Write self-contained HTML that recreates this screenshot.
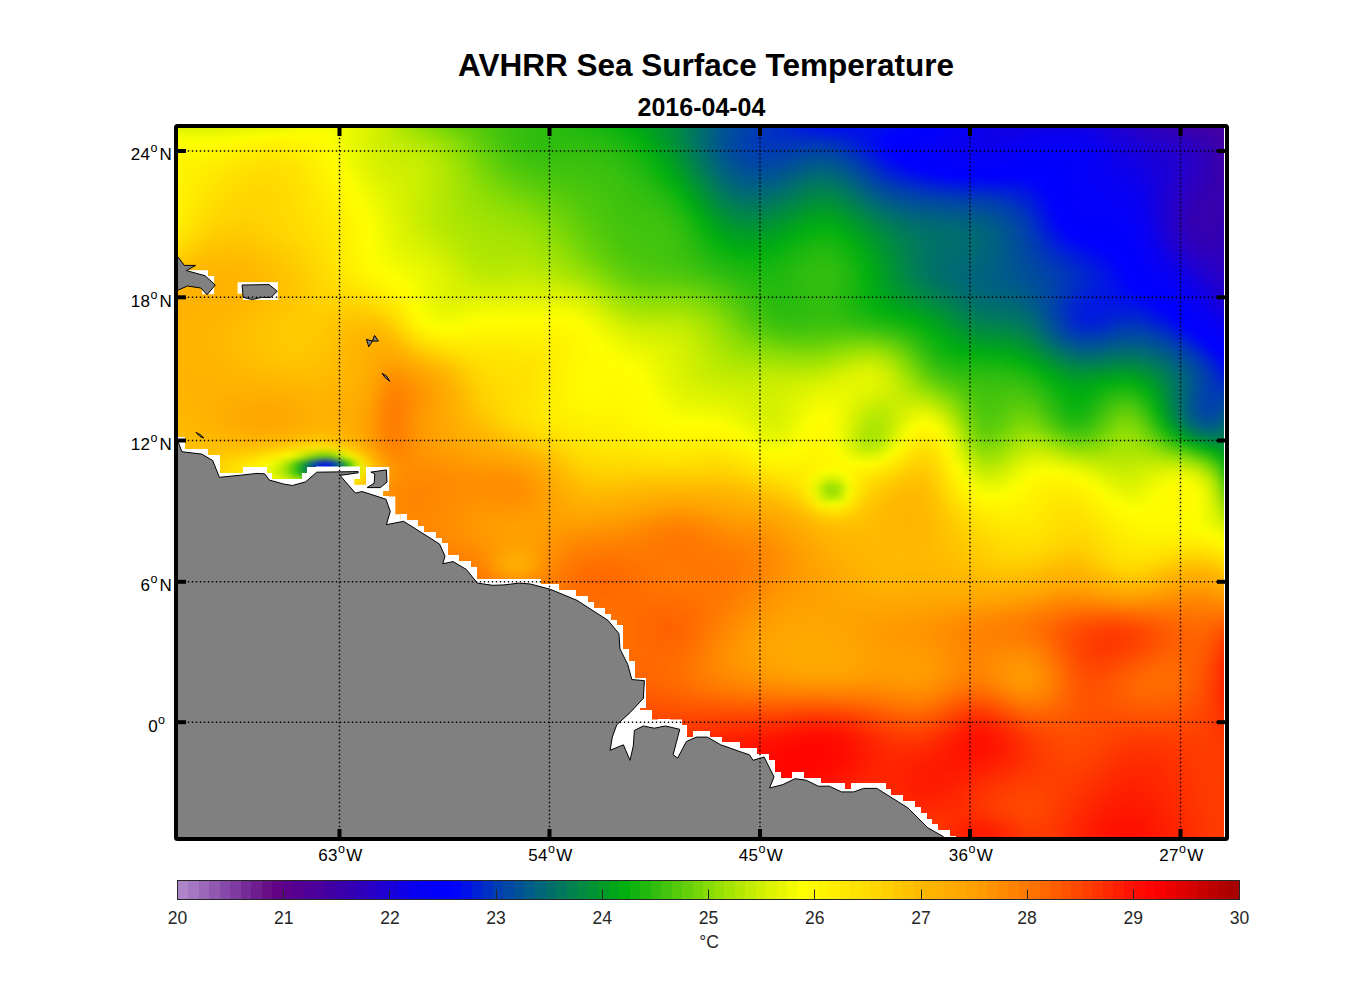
<!DOCTYPE html>
<html><head><meta charset="utf-8"><style>
html,body{margin:0;padding:0;background:#fff;}
body{width:1356px;height:1000px;position:relative;overflow:hidden;font-family:"Liberation Sans",sans-serif;}
#clip{position:absolute;left:178px;top:128px;width:1046px;height:709px;overflow:hidden;}
#field{position:absolute;left:-20px;top:-20px;width:1090px;filter:blur(3px);}
#field i{display:block;height:8px;}
svg{position:absolute;left:0;top:0;}
</style></head><body>
<div id="clip"><div id="field"><i style="background:linear-gradient(90deg,#ddf400,#ddf400,#ddf400,#dcf300,#dcf300,#dcf300,#dcf300,#ddf400,#dff400,#e0f500,#e3f600,#e5f600,#e9f800,#ecf900,#f0fa00,#f3fb00,#f4fb00,#f4fb00,#f1fa00,#ecf900,#e5f600,#dcf300,#d2f000,#c3ec01,#b3e802,#a4e403,#95e004,#87dc05,#7ad707,#6fd308,#65d009,#5ccd0a,#54ca0b,#4cc70c,#44c50d,#3dc20e,#37c00e,#32be0f,#2ebd0f,#2bbc0f,#28bb0f,#25ba0f,#21b90f,#1db80f,#17b60f,#10b40f,#09b20f,#00af0f,#00a916,#00a21f,#009b29,#009235,#008944,#007e55,#007366,#006778,#005b89,#005098,#0048a4,#0041ad,#003bb5,#0034be,#002dc7,#0026d0,#001ed9,#0018e1,#0012e8,#000fec,#000eee,#000eed,#000fec,#0010eb,#000fec,#000cf0,#0008f5,#0001fd,#0000ff,#0000ff,#0200fc,#0400f9,#0600f5,#0800f3,#0a00f0,#0d00eb,#0f00e8,#1000e5,#1100e4,#1200e3,#1100e4,#1100e4,#1100e5,#1100e5,#1100e4,#1300e1,#1600dd,#1900d7,#1e00d2,#2300cd,#2700c7,#2b00c1,#2f00bb,#3300b5,#3700af,#3b00ab,#3e00a8,#4100a5,#4300a3,#4400a2,#4400a2,#4400a2)"></i><i style="background:linear-gradient(90deg,#ddf400,#ddf400,#ddf400,#dcf300,#dcf300,#dcf300,#dcf300,#ddf400,#dff400,#e0f500,#e3f600,#e5f600,#e9f800,#ecf900,#f0fa00,#f3fb00,#f4fb00,#f4fb00,#f1fa00,#ecf900,#e5f600,#dcf300,#d2f000,#c3ec01,#b3e802,#a4e403,#95e004,#87dc05,#7ad707,#6fd308,#65d009,#5ccd0a,#54ca0b,#4cc70c,#44c50d,#3dc20e,#37c00e,#32be0f,#2ebd0f,#2bbc0f,#28bb0f,#25ba0f,#21b90f,#1db80f,#17b60f,#10b40f,#09b20f,#00af0f,#00a916,#00a21f,#009b29,#009235,#008944,#007e55,#007366,#006778,#005b89,#005098,#0048a4,#0041ad,#003bb5,#0034be,#002dc7,#0026d0,#001ed9,#0018e1,#0012e8,#000fec,#000eee,#000eed,#000fec,#0010eb,#000fec,#000cf0,#0008f5,#0001fd,#0000ff,#0000ff,#0200fc,#0400f9,#0600f5,#0800f3,#0a00f0,#0d00eb,#0f00e8,#1000e5,#1100e4,#1200e3,#1100e4,#1100e4,#1100e5,#1100e5,#1100e4,#1300e1,#1600dd,#1900d7,#1e00d2,#2300cd,#2700c7,#2b00c1,#2f00bb,#3300b5,#3700af,#3b00ab,#3e00a8,#4100a5,#4300a3,#4400a2,#4400a2,#4400a2)"></i><i style="background:linear-gradient(90deg,#ddf400,#ddf400,#ddf400,#dcf300,#dcf300,#dcf300,#dcf300,#ddf400,#dff400,#e0f500,#e3f600,#e5f600,#e9f800,#ecf900,#f0fa00,#f3fb00,#f4fb00,#f4fb00,#f1fa00,#ecf900,#e5f600,#dcf300,#d2f000,#c3ec01,#b3e802,#a4e403,#95e004,#87dc05,#7ad707,#6fd308,#65d009,#5ccd0a,#54ca0b,#4cc70c,#44c50d,#3dc20e,#37c00e,#32be0f,#2ebd0f,#2bbc0f,#28bb0f,#25ba0f,#21b90f,#1db80f,#17b60f,#10b40f,#09b20f,#00af0f,#00a916,#00a21f,#009b29,#009235,#008944,#007e55,#007366,#006778,#005b89,#005098,#0048a4,#0041ad,#003bb5,#0034be,#002dc7,#0026d0,#001ed9,#0018e1,#0012e8,#000fec,#000eee,#000eed,#000fec,#0010eb,#000fec,#000cf0,#0008f5,#0001fd,#0000ff,#0000ff,#0200fc,#0400f9,#0600f5,#0800f3,#0a00f0,#0d00eb,#0f00e8,#1000e5,#1100e4,#1200e3,#1100e4,#1100e4,#1100e5,#1100e5,#1100e4,#1300e1,#1600dd,#1900d7,#1e00d2,#2300cd,#2700c7,#2b00c1,#2f00bb,#3300b5,#3700af,#3b00ab,#3e00a8,#4100a5,#4300a3,#4400a2,#4400a2,#4400a2)"></i><i style="background:linear-gradient(90deg,#f2fb00,#f2fb00,#f2fb00,#f0fa00,#effa00,#f0fa00,#f2fb00,#f4fb00,#f7fc00,#fbfe00,#feff00,#fffe00,#fffd00,#fffd00,#fffd00,#fffd00,#ffff00,#fafd00,#f4fb00,#ecf900,#e3f600,#daf300,#d0f000,#c5ed01,#bbea02,#b1e702,#a6e403,#9ce204,#90df04,#84db05,#77d607,#6ad208,#5dcd0a,#51c90b,#47c50d,#3ec20e,#37c00e,#31be0f,#2ebd0f,#2cbc0f,#2abc0f,#29bb0f,#27bb0f,#25ba0f,#21b90f,#1bb70f,#14b50f,#0bb20f,#01af0f,#00a818,#009e24,#009532,#008a42,#007e55,#007268,#00657b,#00598c,#004e9b,#0045a7,#003fb0,#0039b8,#0033bf,#002fc4,#002cc8,#0029cb,#0027ce,#0024d2,#0021d6,#001eda,#0019df,#0014e5,#000fec,#0009f4,#0002fc,#0000ff,#0000ff,#0100fd,#0300fa,#0500f7,#0700f4,#0900f2,#0b00ef,#0d00eb,#0e00e9,#0f00e8,#0e00e9,#0d00eb,#0c00ed,#0a00f0,#0a00f1,#0900f1,#0900f1,#0a00f0,#0c00ed,#0f00e7,#1400e0,#1800d9,#1d00d3,#2200ce,#2500c9,#2800c5,#2b00c1,#2e00bc,#3200b7,#3500b1,#3a00ac,#3f00a7,#4500a1,#4500a1,#4500a1)"></i><i style="background:linear-gradient(90deg,#fffe00,#fffe00,#fffe00,#ffff00,#feff00,#fffe00,#fffd00,#fffb00,#fff800,#fff600,#fff400,#fff300,#fff200,#fff300,#fff400,#fff700,#fffa00,#fffe00,#f7fc00,#edf900,#e3f600,#d9f200,#d1f000,#c8ed01,#c1ec01,#bbea02,#b4e802,#abe603,#a0e303,#93df04,#85db05,#75d607,#66d009,#58cb0b,#4cc70c,#41c30d,#39c10e,#34bf0f,#30bd0f,#2ebd0f,#2ebd0f,#2dbd0f,#2dbc0f,#2bbc0f,#29bb0f,#24ba0f,#1eb80f,#15b50f,#0ab20f,#00ad12,#00a31e,#00982d,#008d3e,#008052,#007366,#006679,#00598b,#004e9b,#0045a7,#003fb0,#003ab6,#0037bb,#0035bd,#0035bc,#0036bb,#0037ba,#0037bb,#0034be,#002fc5,#0027cf,#001dda,#0013e7,#0009f4,#0000ff,#0000ff,#0100fe,#0300fb,#0400f8,#0600f6,#0800f3,#0900f1,#0b00ee,#0c00ec,#0d00ec,#0c00ed,#0a00f0,#0900f1,#0800f3,#0700f4,#0700f5,#0600f5,#0700f5,#0700f4,#0900f2,#0b00ef,#0f00e7,#1400e0,#1800d9,#1c00d4,#2000d0,#2300cd,#2600c9,#2800c5,#2c00c0,#3000ba,#3500b2,#3c00aa,#4500a1,#4500a1,#4500a1)"></i><i style="background:linear-gradient(90deg,#fff800,#fff800,#fff800,#fff900,#fff900,#fff800,#fff500,#fff300,#fff000,#ffed00,#ffeb00,#ffea00,#ffea00,#ffeb00,#ffee00,#fff200,#fff600,#fffb00,#fbfe00,#effa00,#e4f600,#daf300,#d3f000,#ccee00,#c7ed01,#c3ec01,#beeb01,#b6e902,#ace603,#9ee203,#8fde04,#7fd906,#6ed308,#5fce0a,#52c90b,#47c50d,#3ec20e,#38c00e,#35bf0f,#33be0f,#32be0f,#32be0f,#32be0f,#32be0f,#30bd0f,#2cbc0f,#26ba0f,#1eb80f,#13b50f,#05b10f,#00a818,#009d26,#009138,#00844c,#007761,#006975,#005c88,#005098,#0048a4,#0042ac,#003eb1,#003db3,#003db2,#003fb0,#0042ac,#0044a9,#0045a7,#0044a9,#003fb0,#0036bb,#0029cb,#001cdc,#000fed,#0003fb,#0000ff,#0000ff,#0200fc,#0400f9,#0500f7,#0700f5,#0800f3,#0900f2,#0900f1,#0900f1,#0800f2,#0700f4,#0600f5,#0500f7,#0500f8,#0400f9,#0400f9,#0500f8,#0500f7,#0700f5,#0900f2,#0c00ed,#1000e6,#1400df,#1700da,#1a00d6,#1e00d2,#2100cf,#2400cb,#2800c6,#2c00bf,#3200b6,#3a00ac,#4400a2,#4400a2,#4400a2)"></i><i style="background:linear-gradient(90deg,#fff500,#fff500,#fff500,#fff500,#fff400,#fff200,#ffef00,#ffec00,#ffe900,#ffe600,#ffe400,#ffe300,#ffe400,#ffe600,#ffe900,#ffed00,#fff300,#fff900,#ffff00,#f2fb00,#e7f700,#ddf400,#d5f100,#cfef00,#cbee00,#c8ed01,#c4ec01,#bdeb01,#b3e802,#a6e403,#97e004,#87dc05,#76d607,#67d109,#5acc0a,#4ec80c,#45c50d,#3fc30d,#3bc10e,#39c00e,#38c00e,#38c00e,#38c00e,#37c00e,#35bf0f,#32be0f,#2dbc0f,#25ba0f,#1bb70f,#0eb30f,#00ae11,#00a21f,#009630,#008944,#007b59,#006e6e,#006081,#005592,#004c9d,#0046a5,#0043aa,#0043aa,#0045a8,#0048a3,#004c9d,#005098,#005295,#005197,#004c9e,#0043aa,#0038b9,#0028cd,#0019e0,#000cf0,#0001fe,#0000ff,#0000ff,#0200fc,#0300fa,#0400f8,#0500f7,#0600f6,#0600f5,#0600f6,#0500f7,#0400f8,#0300fa,#0300fb,#0200fc,#0200fc,#0300fb,#0300fa,#0400f9,#0600f6,#0800f4,#0900f1,#0d00eb,#1100e5,#1400df,#1700db,#1a00d6,#1e00d2,#2200ce,#2600c8,#2b00c1,#3100b8,#3900ad,#4200a4,#4200a4,#4200a4)"></i><i style="background:linear-gradient(90deg,#fff400,#fff400,#fff400,#fff200,#fff000,#ffed00,#ffea00,#ffe700,#ffe400,#ffe100,#ffdf00,#ffdf00,#ffdf00,#ffe200,#ffe500,#ffea00,#fff000,#fff600,#fffd00,#f6fc00,#ebf800,#e0f500,#d8f200,#d3f000,#cfef00,#ccee00,#c8ed01,#c1ec01,#b8e902,#abe603,#9de204,#8ede05,#7ed906,#6fd408,#62cf09,#57cb0b,#4ec80c,#48c60c,#43c40d,#40c30d,#3ec20e,#3dc20e,#3dc20e,#3cc10e,#3ac10e,#37c00e,#32be0f,#2cbc0f,#22b90f,#16b60f,#07b10f,#00a917,#009c27,#008f3b,#008150,#007366,#006679,#005b89,#005295,#004d9c,#004ba0,#004b9f,#004d9c,#005295,#00578e,#005c87,#005f83,#005e85,#00588c,#004f99,#0044a8,#0037ba,#0027cf,#0019e0,#000eee,#0005f9,#0000ff,#0000ff,#0000ff,#0100fe,#0200fc,#0200fc,#0200fb,#0200fc,#0200fd,#0100fe,#0000ff,#0000ff,#0000ff,#0000fe,#0100fd,#0200fb,#0400fa,#0500f7,#0700f5,#0800f2,#0a00f0,#0e00ea,#1100e4,#1400df,#1800d9,#1c00d4,#2200ce,#2600c8,#2b00c1,#3100b8,#3800ae,#4000a6,#4000a6,#4000a6)"></i><i style="background:linear-gradient(90deg,#fff300,#fff300,#fff300,#fff100,#ffed00,#ffea00,#ffe600,#ffe300,#ffe000,#ffdd00,#ffdc00,#ffdb00,#ffdd00,#ffdf00,#ffe300,#ffe800,#ffee00,#fff400,#fffb00,#fbfe00,#effa00,#e5f600,#dcf300,#d6f100,#d2f000,#ceef00,#caee01,#c3ec01,#b9e902,#aee602,#a0e303,#93df04,#85db05,#78d707,#6cd208,#61cf09,#58cc0a,#51c90b,#4cc70c,#48c60c,#45c50d,#43c40d,#42c40d,#40c30d,#3ec20e,#3bc10e,#37c00e,#31be0f,#29bb0f,#1eb80f,#11b40f,#00af0f,#00a31e,#009630,#008846,#007a5b,#006e6f,#00627f,#005a8a,#005591,#005394,#005492,#00578e,#005d86,#00637d,#006876,#006b72,#006b73,#00657a,#005c87,#005097,#0044a8,#0037ba,#002acb,#001fd9,#0016e3,#0010ec,#000af3,#0005f9,#0001fe,#0000ff,#0000ff,#0000ff,#0000ff,#0000ff,#0000ff,#0000ff,#0000ff,#0000ff,#0000ff,#0000fe,#0200fc,#0300fa,#0500f8,#0600f6,#0700f4,#0900f2,#0b00ef,#0e00e9,#1200e2,#1700db,#1c00d4,#2300cd,#2700c6,#2d00bf,#3200b6,#3800ae,#3e00a8,#3e00a8,#3e00a8)"></i><i style="background:linear-gradient(90deg,#fff400,#fff400,#fff400,#ffef00,#ffeb00,#ffe700,#ffe300,#ffdf00,#ffdd00,#ffda00,#ffd900,#ffd900,#ffdb00,#ffdd00,#ffe100,#ffe600,#ffec00,#fff200,#fff800,#ffff00,#f4fb00,#e9f800,#e0f500,#daf300,#d5f100,#d0ef00,#caee01,#c3ec01,#bae902,#afe702,#a3e303,#97e004,#8bdd05,#80da06,#75d607,#6cd208,#63cf09,#5ccd0a,#56cb0b,#51c90b,#4dc80c,#4ac60c,#47c50d,#44c40d,#41c30d,#3ec20e,#3ac10e,#35bf0f,#2fbd0f,#26ba0f,#1ab70f,#0cb20f,#00ab14,#009d25,#008f3a,#00824f,#007563,#006a73,#00627e,#005e84,#005d86,#005e84,#00627f,#006876,#006f6d,#007465,#007760,#007761,#007268,#006975,#005d86,#005197,#0046a7,#003cb3,#0032c0,#002aca,#0024d2,#001fd8,#001bde,#0017e2,#0014e6,#0012e8,#0011ea,#0010eb,#0010eb,#000fed,#000def,#0009f4,#0002fc,#0000ff,#0000ff,#0200fd,#0300fa,#0500f8,#0600f7,#0700f5,#0800f3,#0900f1,#0c00ed,#1100e5,#1600dc,#1d00d3,#2400cb,#2900c3,#2f00bb,#3400b4,#3800ae,#3c00aa,#3c00aa,#3c00aa)"></i><i style="background:linear-gradient(90deg,#fff400,#fff400,#fff400,#ffee00,#ffe900,#ffe400,#ffe000,#ffdd00,#ffda00,#ffd800,#ffd700,#ffd700,#ffd900,#ffdc00,#ffe000,#ffe500,#ffea00,#fff000,#fff600,#fffc00,#f9fd00,#eef900,#e5f600,#ddf400,#d7f200,#d1f000,#c9ee01,#c2ec01,#b9e902,#afe702,#a5e403,#9be104,#91df04,#88dc05,#7fd906,#77d607,#6fd308,#68d109,#61cf09,#5bcc0a,#55ca0b,#50c90b,#4cc70c,#48c60c,#44c50d,#41c30d,#3dc20e,#39c00e,#34bf0f,#2dbc0f,#23ba0f,#17b60f,#06b10f,#00a51b,#00972e,#008a43,#007d56,#007366,#006c71,#006876,#006778,#006975,#006e6f,#007366,#00795c,#007f54,#00824f,#00824f,#007d57,#007563,#006a73,#005e84,#005394,#004aa0,#0043aa,#003eb1,#003ab7,#0035bc,#0032c1,#002fc5,#002cc8,#002acb,#0028cd,#0026d0,#0023d3,#0020d7,#001bdd,#0014e6,#000af2,#0000ff,#0000ff,#0100fd,#0300fa,#0400f8,#0500f7,#0600f6,#0700f5,#0800f3,#0a00f0,#0f00e7,#1600dc,#1e00d2,#2600c9,#2c00c0,#3100b8,#3500b1,#3800ae,#3900ad,#3900ad,#3900ad)"></i><i style="background:linear-gradient(90deg,#fff500,#fff500,#fff500,#ffed00,#ffe700,#ffe100,#ffdd00,#ffda00,#ffd700,#ffd600,#ffd600,#ffd700,#ffd900,#ffdc00,#ffdf00,#ffe400,#ffe800,#ffee00,#fff300,#fff900,#feff00,#f3fb00,#e9f800,#e0f500,#d8f200,#d1f000,#c9ed01,#c0eb01,#b8e902,#afe702,#a6e403,#9ee203,#96e004,#8fde04,#88dc05,#81da06,#7ad806,#73d507,#6cd208,#65d009,#5ecd0a,#57cb0b,#51c90b,#4cc70c,#47c60c,#43c40d,#3fc30d,#3cc10e,#38c00e,#33be0f,#2cbc0f,#21b90f,#12b40f,#00ad11,#009f22,#009236,#008649,#007c58,#007562,#007268,#007268,#007465,#00785e,#007e55,#00844c,#008943,#008d3e,#008d3e,#008845,#008052,#007661,#006c71,#006180,#00588c,#005296,#004d9d,#0049a2,#0046a5,#0044a8,#0043ab,#0041ad,#003faf,#003eb2,#003bb5,#0036bb,#0030c3,#0028cd,#001ed9,#0012e9,#0004f9,#0000ff,#0100fd,#0300fa,#0400f9,#0500f8,#0500f7,#0600f6,#0700f5,#0900f1,#0e00e9,#1600dc,#2000d0,#2800c6,#2e00bc,#3400b4,#3700af,#3900ad,#3700af,#3700af,#3700af)"></i><i style="background:linear-gradient(90deg,#fff400,#fff400,#fff400,#ffeb00,#ffe400,#ffdf00,#ffda00,#ffd700,#ffd500,#ffd400,#ffd400,#ffd600,#ffd800,#ffdb00,#ffdf00,#ffe300,#ffe700,#ffec00,#fff100,#fff700,#fffd00,#f8fd00,#edf900,#e3f600,#daf300,#d2f000,#c8ed01,#bfeb01,#b7e902,#afe702,#a8e503,#a1e303,#9be104,#96e004,#90df04,#8bdd05,#86db05,#7fd906,#77d607,#6fd308,#66d009,#5ece0a,#56cb0b,#50c90b,#4ac70c,#45c50d,#41c30d,#3ec20e,#3cc10e,#38c00e,#33be0f,#2abc0f,#1db80f,#0ab20f,#00a818,#009a29,#008e3c,#00854a,#007f54,#007c58,#007c58,#007e55,#00834e,#008845,#008e3c,#009433,#00972e,#00972f,#009335,#008b41,#00824f,#00785f,#006f6d,#006679,#006082,#005b89,#00578e,#005492,#005295,#005197,#005099,#004e9b,#004b9e,#0048a3,#0044a9,#003eb1,#0035bd,#0028cd,#0019e0,#0009f3,#0000ff,#0100fe,#0300fb,#0400f9,#0400f9,#0400f9,#0500f8,#0600f6,#0800f3,#0d00eb,#1600dc,#2100cf,#2900c3,#3000b9,#3600b1,#3900ad,#3900ad,#3500b2,#3500b2,#3500b2)"></i><i style="background:linear-gradient(90deg,#fff300,#fff300,#fff300,#ffe900,#ffe100,#ffdc00,#ffd700,#ffd400,#ffd200,#ffd200,#ffd300,#ffd500,#ffd700,#ffdb00,#ffde00,#ffe100,#ffe500,#ffea00,#ffef00,#fff500,#fffb00,#fbfe00,#f0fa00,#e6f700,#dcf300,#d3f000,#c9ee01,#bfeb01,#b7e902,#b0e702,#a9e503,#a4e403,#9fe303,#9be104,#98e004,#94df04,#8fde04,#89dd05,#82da06,#78d707,#6fd308,#65d009,#5ccd0a,#54ca0b,#4dc80c,#48c60c,#43c40d,#40c30d,#3fc20e,#3dc20e,#39c10e,#32be0f,#27bb0f,#16b60f,#01af0f,#00a31e,#00972e,#008e3c,#008845,#008649,#008649,#008845,#008d3e,#009236,#00982c,#009d25,#00a121,#00a121,#009d26,#009531,#008d3e,#00834d,#007a5b,#007367,#006c70,#006777,#00637d,#006181,#005f83,#005d85,#005c87,#005a8a,#00578e,#005393,#004e9b,#0047a5,#003eb1,#0031c2,#0020d7,#000fec,#0000ff,#0000ff,#0200fc,#0300fa,#0300fa,#0300fa,#0400fa,#0500f8,#0700f4,#0c00ed,#1500dd,#2100cf,#2a00c2,#3200b7,#3700af,#3900ad,#3800ae,#3300b5,#3300b5,#3300b5)"></i><i style="background:linear-gradient(90deg,#fff000,#fff000,#fff000,#ffe600,#ffde00,#ffd700,#ffd300,#ffd000,#ffcf00,#ffcf00,#ffd100,#ffd300,#ffd600,#ffd900,#ffdd00,#ffe000,#ffe400,#ffe800,#ffee00,#fff300,#fff900,#feff00,#f3fb00,#e8f700,#def400,#d5f100,#cbee00,#c1eb01,#b9e902,#b2e702,#ace603,#a7e503,#a3e403,#a0e303,#9ee203,#9be104,#97e004,#92df04,#8bdd05,#82da06,#77d607,#6cd308,#62cf09,#59cc0a,#51c90b,#4ac60c,#45c50d,#42c40d,#41c30d,#40c30d,#3ec20e,#39c00e,#2fbd0f,#20b90f,#0db30f,#00ab14,#009f22,#00972f,#009237,#008f3a,#009039,#009236,#00962f,#009c27,#00a21f,#00a719,#00ab15,#00ab15,#00a61a,#009f23,#00962f,#008d3d,#00844b,#007d57,#007661,#007169,#006d6f,#006a73,#006876,#006778,#00667a,#00647c,#006181,#005c87,#005690,#004e9b,#0044a8,#0039b8,#0027ce,#0015e5,#0004f9,#0000ff,#0100fe,#0200fc,#0200fc,#0200fc,#0200fb,#0400f9,#0700f5,#0b00ef,#1400df,#2100cf,#2a00c2,#3200b7,#3700af,#3900ad,#3700af,#3100b8,#3100b8,#3100b8)"></i><i style="background:linear-gradient(90deg,#ffeb00,#ffeb00,#ffeb00,#ffe100,#ffd900,#ffd200,#ffce00,#ffcc00,#ffcb00,#ffcc00,#ffce00,#ffd100,#ffd400,#ffd700,#ffdb00,#ffde00,#ffe200,#ffe700,#ffec00,#fff200,#fff800,#ffff00,#f4fb00,#eaf800,#e0f500,#d8f200,#cfef00,#c6ed01,#bdea01,#b6e802,#afe702,#aae503,#a7e403,#a4e403,#a3e303,#a1e303,#9ee203,#9ae104,#93df04,#8add05,#7fd906,#74d507,#68d109,#5ecd0a,#54ca0b,#4dc80c,#47c60c,#44c40d,#43c40d,#42c40d,#41c30d,#3dc20e,#35bf0f,#27bb0f,#17b60f,#05b00f,#00a818,#009f22,#009b29,#00992c,#00992b,#009b27,#00a022,#00a51b,#00ab14,#02b00f,#07b10f,#07b10f,#01af0f,#00a817,#009f22,#009630,#008d3e,#00854a,#007e55,#00785e,#007465,#00706a,#006e6d,#006d70,#006c71,#006a74,#006679,#006180,#005b89,#005295,#0049a2,#003eb1,#002ec6,#001cdb,#000cef,#0000ff,#0000ff,#0000ff,#0000fe,#0100fe,#0100fd,#0300fb,#0600f7,#0900f1,#1300e1,#1e00d2,#2900c4,#3000b9,#3500b1,#3800ae,#3600b0,#3000ba,#3000ba,#3000ba)"></i><i style="background:linear-gradient(90deg,#ffe400,#ffe400,#ffe400,#ffda00,#ffd200,#ffcc00,#ffc800,#ffc700,#ffc600,#ffc800,#ffca00,#ffcd00,#ffd000,#ffd400,#ffd800,#ffdc00,#ffe000,#ffe500,#ffeb00,#fff100,#fff800,#fffe00,#f5fc00,#ecf900,#e3f600,#dbf300,#d4f100,#ccef00,#c4ec01,#bbea02,#b4e802,#aee602,#aae503,#a7e503,#a6e403,#a6e403,#a4e403,#a0e303,#9ae104,#91df04,#87dc05,#7bd806,#6fd408,#64d009,#59cc0a,#51c90b,#4ac60c,#46c50d,#44c40d,#43c40d,#42c40d,#3fc30d,#38c00e,#2dbc0f,#1eb80f,#0fb30f,#00af0f,#00a818,#00a41d,#00a21f,#00a21f,#00a51c,#00a917,#00ae10,#07b10f,#0fb40f,#14b50f,#14b50f,#0db30f,#02b00f,#00a718,#009d25,#009433,#008b40,#00834d,#007d57,#007760,#007366,#00716a,#006f6c,#006e6e,#006c71,#006975,#00647c,#005d85,#005591,#004c9e,#0042ac,#0035bd,#0025d1,#0016e3,#000af3,#0001fe,#0000ff,#0000ff,#0000ff,#0000ff,#0200fc,#0500f8,#0800f2,#1000e6,#1b00d5,#2600c9,#2d00be,#3200b6,#3500b2,#3400b4,#2f00bb,#2f00bb,#2f00bb)"></i><i style="background:linear-gradient(90deg,#ffdc00,#ffdc00,#ffdc00,#ffd200,#ffca00,#ffc500,#ffc200,#ffc100,#ffc100,#ffc300,#ffc500,#ffc900,#ffcc00,#ffd000,#ffd400,#ffd900,#ffde00,#ffe400,#ffea00,#fff100,#fff700,#fffe00,#f7fc00,#eef900,#e6f700,#e0f500,#daf300,#d4f100,#ccee00,#c2ec01,#bae902,#b2e702,#ade602,#aae503,#aae503,#aae503,#a9e503,#a6e403,#a1e303,#99e104,#8fde04,#84db05,#77d607,#6bd208,#60ce0a,#56cb0b,#4ec80c,#49c60c,#46c50d,#45c50d,#43c40d,#41c30d,#3bc10e,#31be0f,#25ba0f,#18b60f,#0cb30f,#02b00f,#00ac12,#00ab14,#00ab14,#00ad11,#03b00f,#0bb20f,#13b50f,#1ab70f,#1eb80f,#1eb80f,#18b60f,#0db30f,#00ae10,#00a41d,#00992b,#009039,#008747,#007f53,#00795d,#007465,#00716a,#006f6d,#006e6f,#006c71,#006975,#00647c,#005e84,#00568f,#004e9b,#0045a7,#003bb5,#002ec6,#0021d6,#0016e4,#000def,#0007f7,#0002fd,#0000ff,#0000ff,#0100fe,#0400fa,#0700f4,#0d00eb,#1600dc,#2100cf,#2900c5,#2e00bd,#3100b8,#3100b8,#2e00bc,#2e00bc,#2e00bc)"></i><i style="background:linear-gradient(90deg,#ffd100,#ffd100,#ffd100,#ffc900,#ffc300,#ffbf00,#ffbd00,#ffbc00,#ffbd00,#ffbe00,#ffc100,#ffc400,#ffc800,#ffcc00,#ffd100,#ffd600,#ffdc00,#ffe200,#ffe800,#ffef00,#fff600,#fffd00,#f9fd00,#f1fa00,#ebf800,#e5f600,#e0f500,#dbf300,#d4f100,#caee01,#c0eb01,#b7e902,#b1e702,#aee602,#aee602,#aee602,#aee602,#ade602,#a8e503,#a1e303,#98e004,#8dde05,#81da06,#74d507,#68d109,#5dcd0a,#53ca0b,#4dc70c,#49c60c,#47c50d,#45c50d,#43c40d,#3ec20e,#36c00e,#2dbc0f,#22b90f,#17b60f,#0fb30f,#09b20f,#06b10f,#06b10f,#09b20f,#0eb30f,#15b50f,#1db80f,#23ba0f,#27bb0f,#27bb0f,#20b90f,#15b50f,#07b10f,#00a917,#009e25,#009334,#008a43,#008151,#00795c,#007465,#00706b,#006e6e,#006c71,#006a73,#006777,#00637d,#005e85,#00578e,#005099,#0048a3,#0040ae,#0036bb,#002bc9,#0022d5,#0019e0,#0012e9,#000bf1,#0005f9,#0000ff,#0000ff,#0300fb,#0600f6,#0a00f1,#1200e3,#1a00d6,#2300cc,#2900c4,#2d00bf,#2e00bc,#2e00bd,#2e00bd,#2e00bd)"></i><i style="background:linear-gradient(90deg,#ffc700,#ffc700,#ffc700,#ffc100,#ffbc00,#ffb900,#ffb800,#ffb800,#ffb800,#ffba00,#ffbd00,#ffc000,#ffc400,#ffc900,#ffce00,#ffd300,#ffda00,#ffe000,#ffe700,#ffee00,#fff500,#fffb00,#fdfe00,#f5fc00,#f0fa00,#ebf800,#e6f700,#e1f500,#daf300,#d1f000,#c6ed01,#bdea01,#b6e902,#b3e802,#b3e802,#b4e802,#b4e802,#b4e802,#b0e702,#aae503,#a1e303,#97e004,#8cdd05,#80d906,#72d507,#66d009,#5bcd0a,#53ca0b,#4ec80c,#4bc70c,#49c60c,#47c50d,#43c40d,#3dc20e,#35bf0f,#2cbc0f,#23ba0f,#1cb70f,#16b60f,#13b50f,#12b40f,#13b50f,#17b60f,#1db80f,#24ba0f,#2abc0f,#2ebd0f,#2dbc0f,#27bb0f,#1cb70f,#0db30f,#00ac12,#00a121,#009630,#008c40,#00824e,#007a5b,#007465,#006f6c,#006c70,#006a73,#006876,#00667a,#00627f,#005d86,#00578e,#005196,#004b9f,#0044a9,#003eb2,#0035bd,#002cc8,#0023d3,#001bdd,#0013e7,#000bf1,#0002fc,#0000ff,#0100fd,#0400f8,#0800f3,#0d00ec,#1400df,#1b00d5,#2300cc,#2800c6,#2b00c1,#2d00bf,#2d00bf,#2d00bf)"></i><i style="background:linear-gradient(90deg,#ffbe00,#ffbe00,#ffbe00,#ffba00,#ffb700,#ffb600,#ffb500,#ffb500,#ffb600,#ffb800,#ffba00,#ffbd00,#ffc100,#ffc600,#ffcb00,#ffd100,#ffd700,#ffde00,#ffe400,#ffeb00,#fff200,#fff800,#fffd00,#fcfe00,#f6fc00,#f1fa00,#ecf900,#e6f700,#def400,#d6f100,#cdef00,#c3ec01,#bdea01,#baea02,#b9e902,#bbea02,#bcea01,#bcea01,#b9e902,#b4e802,#ade602,#a4e403,#99e104,#8dde05,#80d906,#72d507,#66d009,#5ccd0a,#56cb0b,#53ca0b,#50c90b,#4ec80c,#4bc70c,#46c50d,#3fc30d,#37c00e,#2fbd0f,#28bb0f,#22b90f,#1eb80f,#1bb70f,#1bb70f,#1eb80f,#23b90f,#29bb0f,#2ebd0f,#32be0f,#31be0f,#2bbc0f,#20b80f,#11b40f,#00af0f,#00a31d,#00982c,#008e3c,#00844b,#007c59,#007563,#00706b,#006c71,#006975,#006778,#00647c,#006180,#005d86,#00588d,#005394,#004e9b,#0048a3,#0042ac,#003cb4,#0033bf,#002aca,#0022d5,#0019df,#0010ea,#0007f6,#0000ff,#0000ff,#0300fb,#0600f6,#0900f2,#0e00e9,#1500de,#1c00d4,#2300cd,#2800c6,#2b00c1,#2b00c1,#2b00c1)"></i><i style="background:linear-gradient(90deg,#ffb800,#ffb800,#ffb800,#ffb600,#ffb400,#ffb300,#ffb300,#ffb400,#ffb500,#ffb600,#ffb800,#ffbc00,#ffc000,#ffc400,#ffc900,#ffcf00,#ffd500,#ffdb00,#ffe100,#ffe700,#ffed00,#fff300,#fff700,#fffc00,#feff00,#f7fc00,#f0fa00,#e9f800,#e2f500,#daf300,#d3f000,#cbee00,#c5ed01,#c3ec01,#c3ec01,#c4ec01,#c5ed01,#c6ed01,#c4ec01,#c1eb01,#bbea02,#b3e802,#a9e503,#9de204,#8fde04,#81da06,#73d507,#68d109,#62cf09,#5ecd0a,#5ccd0a,#5acc0a,#58cb0b,#53ca0b,#4dc70c,#45c50d,#3dc20e,#35bf0f,#2ebd0f,#28bb0f,#24ba0f,#22b90f,#22b90f,#26ba0f,#2bbc0f,#30bd0f,#33be0f,#32be0f,#2cbc0f,#21b90f,#13b50f,#02b00f,#00a51b,#009a29,#009138,#008746,#007f53,#00785e,#007267,#006e6e,#006a73,#006778,#00647c,#006180,#005e85,#005a8a,#005690,#005197,#004b9f,#0045a7,#003fb0,#0037bb,#002dc7,#0024d1,#001cdc,#0014e7,#000bf2,#0001fd,#0000ff,#0100fd,#0400f9,#0700f5,#0900f1,#0f00e8,#1500dd,#1d00d3,#2400cb,#2900c4,#2900c4,#2900c4)"></i><i style="background:linear-gradient(90deg,#ffb500,#ffb500,#ffb500,#ffb300,#ffb300,#ffb200,#ffb300,#ffb300,#ffb500,#ffb600,#ffb800,#ffbc00,#ffbf00,#ffc400,#ffc800,#ffcd00,#ffd300,#ffd800,#ffdd00,#ffe200,#ffe700,#ffeb00,#fff000,#fff500,#fffb00,#fdfe00,#f3fb00,#eaf800,#e3f600,#dcf300,#d7f200,#d3f000,#d0f000,#cfef00,#cfef00,#d0ef00,#d1f000,#d2f000,#d1f000,#d0ef00,#ccee00,#c5ed01,#bcea01,#afe702,#a1e303,#92df04,#84db05,#78d707,#71d408,#6dd308,#6cd208,#6ad208,#68d109,#64d009,#5ecd0a,#56cb0b,#4dc70c,#43c40d,#3ac10e,#31be0f,#2abc0f,#26ba0f,#25ba0f,#27bb0f,#2bbc0f,#30bd0f,#32be0f,#31be0f,#2bbc0f,#21b90f,#13b50f,#04b00f,#00a719,#009e25,#009532,#008d3f,#00854a,#007e55,#00785e,#007367,#006e6e,#006a74,#006679,#00637d,#006181,#005d85,#005a8b,#005591,#004e9a,#0047a5,#003faf,#0036bc,#002bc9,#0023d4,#001bdd,#0015e5,#000eee,#0006f7,#0000ff,#0000ff,#0200fc,#0400f8,#0700f4,#0a00f0,#1100e5,#1700da,#1f00d1,#2600c8,#2600c8,#2600c8)"></i><i style="background:linear-gradient(90deg,#ffb300,#ffb300,#ffb300,#ffb200,#ffb200,#ffb200,#ffb300,#ffb400,#ffb500,#ffb700,#ffb900,#ffbd00,#ffc000,#ffc400,#ffc800,#ffcd00,#ffd100,#ffd400,#ffd800,#ffdb00,#ffdf00,#ffe300,#ffe700,#ffee00,#fff500,#fffc00,#f6fc00,#ebf800,#e4f600,#dff400,#dcf300,#dbf300,#dbf300,#dbf300,#dbf300,#dbf300,#dcf300,#dcf300,#dcf300,#dcf300,#dbf300,#d7f200,#d0f000,#c4ec01,#b4e802,#a4e403,#96e004,#8add05,#83db05,#80d906,#7fd906,#7ed906,#7cd806,#78d707,#71d408,#67d109,#5dcd0a,#51c90b,#45c50d,#3ac10e,#31be0f,#2abc0f,#27bb0f,#28bb0f,#2bbc0f,#2fbd0f,#31be0f,#30bd0f,#2bbc0f,#21b90f,#14b50f,#06b10f,#00aa15,#00a220,#009a2a,#009334,#008d3e,#008648,#008053,#00795c,#007465,#006f6d,#006b73,#006777,#00657b,#00627e,#005f83,#00598b,#005296,#0048a3,#003fb0,#0032c0,#0027cf,#001fd9,#0019df,#0015e5,#0011e9,#000cef,#0006f8,#0000ff,#0000ff,#0200fc,#0500f7,#0800f3,#0c00ec,#1300e1,#1a00d6,#2200ce,#2200ce,#2200ce)"></i><i style="background:linear-gradient(90deg,#ffb300,#ffb300,#ffb300,#ffb200,#ffb200,#ffb300,#ffb400,#ffb500,#ffb700,#ffb900,#ffbb00,#ffbf00,#ffc200,#ffc500,#ffc900,#ffcc00,#ffcf00,#ffd100,#ffd200,#ffd300,#ffd500,#ffd900,#ffde00,#ffe500,#ffee00,#fff800,#fbfe00,#eef900,#e6f700,#e2f500,#e2f500,#e4f600,#e6f700,#e7f700,#e7f700,#e7f700,#e7f700,#e7f700,#e8f700,#e9f800,#e8f700,#e6f700,#e0f500,#d7f200,#c8ed01,#b7e902,#a8e503,#9ce204,#95e004,#93df04,#92df04,#92df04,#91df04,#8cdd05,#84db05,#7ad707,#6dd308,#5fce0a,#51c90b,#43c40d,#37c00e,#2ebd0f,#29bb0f,#29bb0f,#2bbc0f,#2ebd0f,#30be0f,#30bd0f,#2bbc0f,#22b90f,#17b60f,#0bb20f,#00ae10,#00a818,#00a120,#009b28,#009630,#00903a,#008944,#00824f,#007b5a,#007563,#00706a,#006d6f,#006b72,#006975,#00657a,#005f83,#005690,#004aa0,#003eb1,#002fc4,#0022d4,#001bdd,#0018e1,#0017e3,#0016e3,#0014e6,#000fec,#0008f5,#0000ff,#0000ff,#0300fb,#0600f6,#0900f2,#0f00e8,#1500dd,#1c00d4,#1c00d4,#1c00d4)"></i><i style="background:linear-gradient(90deg,#ffb300,#ffb300,#ffb300,#ffb300,#ffb300,#ffb400,#ffb500,#ffb600,#ffb800,#ffbb00,#ffbe00,#ffc100,#ffc400,#ffc700,#ffc900,#ffcc00,#ffcd00,#ffcd00,#ffcc00,#ffcc00,#ffcc00,#ffce00,#ffd300,#ffdc00,#ffe600,#fff200,#fffd00,#f2fb00,#eaf800,#e8f700,#eaf800,#eef900,#f1fa00,#f3fb00,#f4fb00,#f3fb00,#f3fb00,#f3fb00,#f4fb00,#f5fc00,#f6fc00,#f4fb00,#eef900,#e5f600,#d9f200,#caee01,#baea02,#aee602,#a8e503,#a5e403,#a5e403,#a5e403,#a3e403,#9ee203,#96e004,#8bdd05,#7dd806,#6dd308,#5dcd0a,#4dc80c,#3fc30d,#35bf0f,#2ebd0f,#2cbc0f,#2dbd0f,#30bd0f,#32be0f,#32be0f,#2ebd0f,#27bb0f,#1eb80f,#14b50f,#0ab20f,#01af0f,#00ab14,#00a61b,#00a022,#009a2a,#009235,#008b41,#00834d,#007c58,#007760,#007464,#007267,#00706a,#006d70,#006679,#005b89,#004d9c,#003faf,#002ec6,#0020d7,#001adf,#0019e0,#001bde,#001dda,#001ed9,#001bdd,#0014e6,#000af2,#0000ff,#0000ff,#0300fa,#0700f5,#0a00f0,#1000e6,#1600dc,#1600dc,#1600dc)"></i><i style="background:linear-gradient(90deg,#ffb300,#ffb300,#ffb300,#ffb300,#ffb400,#ffb500,#ffb600,#ffb800,#ffba00,#ffbd00,#ffc000,#ffc300,#ffc600,#ffc800,#ffca00,#ffcb00,#ffcb00,#ffca00,#ffc700,#ffc400,#ffc300,#ffc300,#ffc700,#ffd000,#ffde00,#ffeb00,#fff800,#fcfe00,#f3fb00,#f1fa00,#f4fb00,#f9fd00,#feff00,#ffff00,#fffe00,#ffff00,#ffff00,#ffff00,#ffff00,#fffe00,#fffe00,#ffff00,#fbfe00,#f2fb00,#e6f700,#daf300,#cdef00,#c1eb01,#baea02,#b8e902,#b8e902,#b7e902,#b5e802,#afe702,#a5e403,#99e104,#8bdd05,#7ad806,#69d109,#58cc0a,#4ac60c,#3ec20e,#36bf0f,#33be0f,#33be0f,#35bf0f,#37c00e,#38c00e,#35bf0f,#30bd0f,#2abb0f,#22b90f,#1ab70f,#13b50f,#0cb30f,#04b00f,#00ac13,#00a51c,#009c26,#009433,#008c40,#00854b,#007f53,#007d57,#007b5a,#00795d,#007563,#006e6e,#00627f,#005394,#0043aa,#0031c1,#0023d3,#001ddb,#001ed9,#0023d4,#0028cd,#002bc9,#002acb,#0023d3,#0019df,#000def,#0000ff,#0100fe,#0400f9,#0700f4,#0b00ef,#1000e6,#1000e6,#1000e6)"></i><i style="background:linear-gradient(90deg,#ffb400,#ffb400,#ffb400,#ffb400,#ffb500,#ffb600,#ffb700,#ffb900,#ffbc00,#ffbf00,#ffc200,#ffc500,#ffc700,#ffc900,#ffca00,#ffcb00,#ffca00,#ffc700,#ffc300,#ffbf00,#ffbb00,#ffba00,#ffbd00,#ffc500,#ffd300,#ffe200,#fff000,#fff900,#fffe00,#ffff00,#fffe00,#fffb00,#fff900,#fff800,#fff800,#fff800,#fff900,#fff900,#fff900,#fff800,#fff900,#fffa00,#fffc00,#fcfe00,#f1fa00,#e5f600,#daf300,#d2f000,#ccee00,#c9ee01,#c8ed01,#c6ed01,#c3ec01,#bcea01,#b2e702,#a5e403,#96e004,#87dc05,#76d607,#65d009,#57cb0b,#4bc70c,#43c40d,#3fc30d,#3ec20e,#40c30d,#42c40d,#43c40d,#43c40d,#41c30d,#3dc20e,#38c00e,#32be0f,#2bbc0f,#22b90f,#19b60f,#0db30f,#00af0f,#00a61a,#009d26,#009532,#008e3c,#008944,#008648,#00854b,#00834e,#007e54,#007760,#006b72,#005b89,#004aa0,#003cb4,#002dc7,#0028cd,#002aca,#0031c2,#0038ba,#003cb4,#003bb5,#0035bc,#002bc9,#001ed9,#000fec,#0000ff,#0100fe,#0400f9,#0700f4,#0a00f0,#0a00f0,#0a00f0)"></i><i style="background:linear-gradient(90deg,#ffb400,#ffb400,#ffb400,#ffb400,#ffb500,#ffb600,#ffb800,#ffba00,#ffbd00,#ffc000,#ffc300,#ffc500,#ffc800,#ffc900,#ffca00,#ffca00,#ffc800,#ffc500,#ffc000,#ffbb00,#ffb700,#ffb500,#ffb500,#ffba00,#ffc600,#ffd600,#ffe400,#ffee00,#fff300,#fff500,#fff500,#fff400,#fff300,#fff200,#fff200,#fff200,#fff300,#fff300,#fff400,#fff400,#fff500,#fff600,#fff900,#fffd00,#f9fd00,#effa00,#e5f600,#def400,#d9f200,#d6f100,#d4f100,#d2f000,#cdef00,#c5ed01,#baea02,#aee602,#a0e303,#91df04,#83db05,#75d607,#68d109,#5dcd0a,#56cb0b,#51c90b,#50c90b,#50c90b,#52c90b,#55ca0b,#57cb0b,#59cc0a,#59cc0a,#57cb0b,#52c90b,#49c60c,#3dc20e,#2ebd0f,#1fb80f,#0fb30f,#00af10,#00a61b,#009e25,#00982d,#009434,#009137,#00903a,#008d3d,#008944,#008150,#007662,#006679,#00568f,#0048a3,#003fb0,#003bb5,#003db2,#0042ac,#0047a5,#004aa0,#004aa1,#0046a7,#003fb0,#0033bf,#0023d3,#0012e9,#0000ff,#0100fe,#0400f9,#0700f4,#0700f4,#0700f4)"></i><i style="background:linear-gradient(90deg,#ffb400,#ffb400,#ffb400,#ffb400,#ffb500,#ffb600,#ffb800,#ffba00,#ffbd00,#ffc000,#ffc300,#ffc500,#ffc700,#ffc800,#ffc900,#ffc800,#ffc600,#ffc300,#ffbe00,#ffb800,#ffb500,#ffb200,#ffb000,#ffb200,#ffb900,#ffc700,#ffd600,#ffe000,#ffe600,#ffe900,#ffeb00,#ffec00,#ffec00,#ffed00,#ffed00,#ffed00,#ffee00,#ffee00,#ffef00,#fff000,#fff200,#fff400,#fff700,#fffb00,#feff00,#f6fc00,#effa00,#e8f700,#e3f600,#e0f500,#dcf300,#d9f200,#d4f100,#cbee00,#c0eb01,#b4e802,#a8e503,#9be104,#90de04,#85db05,#7bd806,#73d507,#6cd308,#68d109,#66d009,#66d009,#68d109,#6cd208,#71d408,#77d607,#7bd806,#7bd806,#76d607,#6ad208,#59cc0a,#45c50d,#30bd0f,#1cb80f,#0cb30f,#00ae11,#00a719,#00a21f,#009f23,#009d25,#009b27,#00992b,#009532,#008d3e,#00824f,#007464,#00667a,#00598c,#005098,#004d9c,#004f9a,#005394,#00588d,#005a8a,#00598b,#005591,#004e9a,#0045a7,#0039b7,#0027ce,#0014e6,#0001fe,#0100fe,#0400f9,#0400f9,#0400f9)"></i><i style="background:linear-gradient(90deg,#ffb400,#ffb400,#ffb400,#ffb400,#ffb500,#ffb600,#ffb700,#ffb900,#ffbc00,#ffbf00,#ffc100,#ffc400,#ffc600,#ffc700,#ffc700,#ffc600,#ffc400,#ffc100,#ffbc00,#ffb700,#ffb300,#ffaf00,#ffac00,#ffab00,#ffaf00,#ffb800,#ffc400,#ffce00,#ffd600,#ffdc00,#ffe100,#ffe400,#ffe600,#ffe800,#ffe800,#ffe800,#ffe900,#ffea00,#ffeb00,#ffee00,#fff100,#fff400,#fff700,#fffa00,#fffe00,#fcfe00,#f6fc00,#f1fa00,#ecf900,#e8f700,#e3f600,#ddf400,#d7f200,#cfef00,#c4ec01,#b9e902,#afe702,#a5e403,#9ce204,#95e004,#8fde04,#8add05,#85db05,#81da06,#7fd906,#7fd906,#81da06,#86dc05,#8ede05,#96e004,#9ce204,#9ee203,#99e104,#8cdd05,#76d607,#5ccd0a,#41c30d,#2abc0f,#18b60f,#0bb20f,#03b00f,#00ad11,#00ab13,#00aa15,#00a917,#00a61a,#00a120,#00992b,#008f3b,#00834e,#007661,#006c71,#00647c,#006180,#00637e,#006778,#006a73,#006c71,#006b73,#006679,#005f84,#005591,#0049a2,#003cb4,#0028cd,#0013e7,#0000ff,#0100fd,#0100fd,#0100fd)"></i><i style="background:linear-gradient(90deg,#ffb400,#ffb400,#ffb400,#ffb400,#ffb400,#ffb500,#ffb600,#ffb800,#ffba00,#ffbd00,#ffbf00,#ffc100,#ffc300,#ffc400,#ffc400,#ffc400,#ffc200,#ffbf00,#ffba00,#ffb600,#ffb200,#ffae00,#ffa800,#ffa400,#ffa600,#ffad00,#ffb500,#ffbc00,#ffc500,#ffcd00,#ffd500,#ffdc00,#ffe100,#ffe300,#ffe400,#ffe400,#ffe500,#ffe600,#ffe800,#ffec00,#fff000,#fff400,#fff800,#fffa00,#fffd00,#fffe00,#fdfe00,#f9fd00,#f4fb00,#eef900,#e7f700,#e0f500,#d9f200,#d1f000,#c7ed01,#beeb01,#b5e802,#aee602,#a8e503,#a4e403,#a1e303,#9ee203,#9be104,#99e104,#97e004,#97e004,#99e104,#9fe203,#a8e503,#b2e702,#baea02,#bdea01,#b7e902,#a7e503,#90de04,#72d507,#53ca0b,#39c00e,#26ba0f,#1ab70f,#13b50f,#0fb40f,#0eb30f,#0db30f,#0bb20f,#06b10f,#00ae10,#00a719,#009c26,#009137,#008748,#007d56,#00775f,#007662,#007760,#007a5c,#007c57,#007d56,#007b59,#007661,#006e6d,#00647c,#00578e,#004aa1,#003ab6,#0024d2,#000eed,#0000ff,#0000ff,#0000ff)"></i><i style="background:linear-gradient(90deg,#ffb400,#ffb400,#ffb400,#ffb300,#ffb400,#ffb400,#ffb500,#ffb600,#ffb800,#ffba00,#ffbc00,#ffbe00,#ffbf00,#ffc000,#ffc100,#ffc000,#ffbf00,#ffbd00,#ffb900,#ffb600,#ffb200,#ffac00,#ffa500,#ff9d00,#ff9c00,#ffa300,#ffaa00,#ffb000,#ffb600,#ffbf00,#ffca00,#ffd400,#ffdb00,#ffdf00,#ffe100,#ffe100,#ffe200,#ffe300,#ffe600,#ffeb00,#fff000,#fff500,#fff800,#fffb00,#fffc00,#fffd00,#fffe00,#ffff00,#fafd00,#f3fb00,#ebf800,#e3f600,#dbf300,#d3f000,#caee01,#c2ec01,#bcea01,#b7e902,#b4e802,#b2e802,#b1e702,#b0e702,#afe702,#aee602,#ade602,#aee602,#b1e702,#b7e902,#c1eb01,#cbee00,#d3f000,#d5f100,#d0ef00,#beeb01,#a5e403,#87dc05,#66d009,#4ac60c,#36bf0f,#2abc0f,#23ba0f,#21b90f,#20b90f,#1fb80f,#1eb80f,#1ab70f,#13b50f,#08b20f,#00ab14,#00a022,#009630,#008e3c,#008944,#008846,#008a43,#008c3f,#008f3b,#008f3b,#008c40,#00854a,#007c58,#007169,#00637d,#005492,#0045a8,#0032c0,#001ddb,#0009f3,#0009f3,#0009f3)"></i><i style="background:linear-gradient(90deg,#ffb400,#ffb400,#ffb400,#ffb300,#ffb300,#ffb300,#ffb400,#ffb500,#ffb600,#ffb700,#ffb800,#ffb900,#ffba00,#ffbc00,#ffbc00,#ffbc00,#ffbc00,#ffba00,#ffb700,#ffb500,#ffb100,#ffab00,#ffa100,#ff9400,#ff9100,#ff9800,#ffa100,#ffa600,#ffad00,#ffb500,#ffc100,#ffcd00,#ffd600,#ffdc00,#ffde00,#ffdf00,#ffe000,#ffe200,#ffe600,#ffeb00,#fff000,#fff500,#fff900,#fffb00,#fffb00,#fffb00,#fffc00,#fffd00,#ffff00,#f7fc00,#effa00,#e5f600,#ddf400,#d5f100,#ceef00,#c8ed01,#c4ec01,#c1eb01,#bfeb01,#beeb01,#bfeb01,#bfeb01,#c0eb01,#c0eb01,#c1eb01,#c3ec01,#c7ed01,#cdef00,#d5f100,#dcf300,#e0f500,#e1f500,#dcf300,#ceef00,#b5e802,#99e104,#7bd806,#5fce0a,#4ac70c,#3dc20e,#35bf0f,#30be0f,#2fbd0f,#2ebd0f,#2dbd0f,#2bbc0f,#26ba0f,#1db80f,#0fb30f,#00ae10,#00a41c,#009c26,#00982d,#00982d,#009a29,#009e24,#00a121,#00a021,#009c27,#009334,#008845,#007b5a,#006c70,#005c88,#004b9f,#003cb4,#0029cc,#001adf,#001adf,#001adf)"></i><i style="background:linear-gradient(90deg,#ffb400,#ffb400,#ffb400,#ffb300,#ffb300,#ffb200,#ffb200,#ffb200,#ffb300,#ffb300,#ffb400,#ffb500,#ffb600,#ffb700,#ffb700,#ffb800,#ffb800,#ffb700,#ffb600,#ffb300,#ffaf00,#ffa900,#ff9d00,#ff8d00,#ff8800,#ff8f00,#ff9800,#ffa000,#ffa700,#ffb000,#ffba00,#ffc700,#ffd200,#ffd900,#ffdc00,#ffde00,#ffe000,#ffe200,#ffe600,#ffeb00,#fff100,#fff600,#fff900,#fffb00,#fffb00,#fffa00,#fffa00,#fffb00,#fffd00,#fafd00,#f1fa00,#e8f700,#e0f500,#d9f200,#d4f100,#d0ef00,#ccef00,#caee01,#c9ee01,#c8ed01,#c8ed01,#c9ee01,#cbee00,#cdef00,#d1f000,#d4f100,#d8f200,#dcf300,#e1f500,#e4f600,#e6f700,#e4f600,#def400,#d3f000,#bfeb01,#a8e503,#91df04,#79d707,#64d009,#54ca0b,#47c60c,#3fc30d,#3ac10e,#39c00e,#39c10e,#39c00e,#36bf0f,#2ebd0f,#21b90f,#11b40f,#00af0f,#00a719,#00a31e,#00a51c,#00a916,#00af0f,#06b10f,#06b10f,#00ac12,#00a121,#009236,#00824f,#007169,#005e84,#004d9c,#003fb0,#0032c1,#002bc9,#002bc9,#002bc9)"></i><i style="background:linear-gradient(90deg,#ffb500,#ffb500,#ffb500,#ffb300,#ffb200,#ffb100,#ffb100,#ffb000,#ffb000,#ffaf00,#ffb000,#ffb000,#ffb100,#ffb200,#ffb300,#ffb400,#ffb500,#ffb500,#ffb300,#ffb100,#ffad00,#ffa600,#ff9900,#ff8700,#ff8200,#ff8a00,#ff9300,#ff9c00,#ffa400,#ffad00,#ffb600,#ffc300,#ffce00,#ffd600,#ffdb00,#ffde00,#ffe000,#ffe300,#ffe700,#ffec00,#fff100,#fff600,#fff900,#fffa00,#fffa00,#fff900,#fff900,#fffa00,#fffc00,#fdfe00,#f4fb00,#ecf900,#e4f600,#def400,#daf300,#d7f200,#d6f100,#d4f100,#d2f000,#d0ef00,#cfef00,#cfef00,#d1f000,#d5f100,#daf300,#dff400,#e4f600,#e7f700,#e8f700,#e7f700,#e4f600,#e0f500,#d9f200,#d1f000,#c5ec01,#b6e902,#a7e403,#95e004,#82da06,#6ed308,#5bcc0a,#4cc70c,#43c40d,#40c30d,#41c30d,#44c40d,#44c40d,#3ec20e,#31be0f,#1fb80f,#0db30f,#00af0f,#00ab14,#00ae10,#0ab20f,#18b60f,#21b90f,#22b90f,#15b50f,#00ae11,#009b29,#008747,#007366,#005e84,#004c9d,#003faf,#0039b8,#003db2,#003db2,#003db2)"></i><i style="background:linear-gradient(90deg,#ffb500,#ffb500,#ffb500,#ffb400,#ffb200,#ffb100,#ffaf00,#ffae00,#ffad00,#ffac00,#ffac00,#ffac00,#ffac00,#ffae00,#ffaf00,#ffb100,#ffb200,#ffb200,#ffb100,#ffaf00,#ffab00,#ffa400,#ff9400,#ff8300,#ff7f00,#ff8700,#ff9200,#ff9a00,#ffa300,#ffab00,#ffb400,#ffbf00,#ffcb00,#ffd300,#ffd900,#ffdd00,#ffe000,#ffe400,#ffe800,#ffed00,#fff100,#fff500,#fff800,#fff900,#fff900,#fff800,#fff800,#fff900,#fffb00,#ffff00,#f8fd00,#f0fa00,#e9f800,#e5f600,#e2f500,#e0f500,#def400,#dcf300,#d9f200,#d5f100,#d3f000,#d2f000,#d4f100,#daf300,#e1f500,#e8f700,#eef900,#f0fa00,#eef900,#e7f700,#dff400,#d6f100,#cfef00,#caee01,#c7ed01,#c4ec01,#beeb01,#b3e802,#a0e303,#8add05,#6fd408,#58cc0a,#49c60c,#45c50d,#47c60c,#4dc70c,#50c90b,#4dc70c,#3fc30d,#2cbc0f,#18b60f,#08b20f,#03b00f,#0bb20f,#1bb70f,#2dbc0f,#3ac10e,#3cc20e,#2ebd0f,#12b40f,#00a31e,#008b40,#007464,#005d85,#004b9f,#0040af,#003fb0,#004aa0,#004aa0,#004aa0)"></i><i style="background:linear-gradient(90deg,#ffb600,#ffb600,#ffb600,#ffb500,#ffb300,#ffb100,#ffaf00,#ffad00,#ffab00,#ffa900,#ffa800,#ffa800,#ffa900,#ffab00,#ffad00,#ffaf00,#ffb000,#ffb100,#ffb000,#ffad00,#ffa900,#ffa200,#ff9100,#ff8000,#ff7d00,#ff8700,#ff9300,#ff9b00,#ffa300,#ffaa00,#ffb300,#ffbc00,#ffc700,#ffcf00,#ffd600,#ffdc00,#ffe000,#ffe400,#ffe800,#ffed00,#fff000,#fff300,#fff600,#fff700,#fff700,#fff700,#fff700,#fff800,#fffa00,#fffd00,#fbfe00,#f5fc00,#f0fa00,#edf900,#ebf800,#eaf800,#e8f700,#e5f600,#e0f500,#daf300,#d6f100,#d4f100,#d6f100,#ddf400,#e6f700,#f0fa00,#f7fc00,#f7fc00,#f1fa00,#e5f600,#d7f200,#c9ee01,#c1eb01,#c2ec01,#caee01,#d3f000,#d6f100,#d2f000,#bfeb01,#a3e403,#84db05,#65d009,#4fc80c,#49c60c,#4dc80c,#56cb0b,#5ccd0a,#5bcd0a,#4ec80c,#38c00e,#22b90f,#11b40f,#0bb20f,#15b50f,#29bb0f,#40c30d,#51c90b,#55ca0b,#45c50d,#25ba0f,#00ac13,#009138,#007760,#005f83,#004c9e,#0042ac,#0045a8,#00578e,#00578e,#00578e)"></i><i style="background:linear-gradient(90deg,#ffb700,#ffb700,#ffb700,#ffb600,#ffb400,#ffb100,#ffaf00,#ffac00,#ffaa00,#ffa800,#ffa700,#ffa700,#ffa700,#ffa900,#ffac00,#ffae00,#ffb000,#ffb100,#ffaf00,#ffad00,#ffa800,#ffa100,#ff8f00,#ff7f00,#ff7d00,#ff8800,#ff9500,#ff9d00,#ffa400,#ffaa00,#ffb100,#ffb900,#ffc200,#ffcb00,#ffd200,#ffd900,#ffde00,#ffe300,#ffe700,#ffeb00,#ffee00,#fff100,#fff300,#fff400,#fff500,#fff500,#fff500,#fff700,#fff900,#fffc00,#fffe00,#fbfe00,#f7fc00,#f6fc00,#f5fc00,#f4fb00,#f2fb00,#eef900,#e8f700,#e0f500,#d9f200,#d6f100,#d7f200,#dff400,#ebf800,#f6fc00,#fdfe00,#fdfe00,#f3fb00,#e2f500,#cfef00,#bcea01,#b5e802,#bdea01,#cfef00,#def400,#e9f800,#e9f800,#dbf300,#bdea01,#97e004,#72d408,#56cb0b,#4ec80c,#53ca0b,#5fce0a,#6ad208,#6bd208,#5ecd0a,#47c60c,#2fbd0f,#1cb80f,#16b60f,#22b90f,#38c00e,#52c90b,#66d009,#6bd208,#5acc0a,#39c00e,#0cb30f,#00982c,#007d56,#00657b,#005196,#0049a2,#004e9b,#00657b,#00657b,#00657b)"></i><i style="background:linear-gradient(90deg,#ffb800,#ffb800,#ffb800,#ffb700,#ffb500,#ffb300,#ffb000,#ffae00,#ffab00,#ffa900,#ffa800,#ffa800,#ffa800,#ffab00,#ffad00,#ffb000,#ffb200,#ffb200,#ffb100,#ffad00,#ffa800,#ffa000,#ff8e00,#ff7f00,#ff7e00,#ff8a00,#ff9600,#ff9f00,#ffa400,#ffa900,#ffaf00,#ffb500,#ffbc00,#ffc500,#ffcc00,#ffd300,#ffda00,#ffdf00,#ffe300,#ffe700,#ffeb00,#ffee00,#fff000,#fff100,#fff200,#fff200,#fff300,#fff500,#fff700,#fff900,#fffb00,#fffd00,#ffff00,#ffff00,#ffff00,#ffff00,#feff00,#f9fd00,#f1fa00,#e8f700,#dff400,#daf300,#dbf300,#e3f600,#effa00,#fbfe00,#fffd00,#fffe00,#f4fb00,#e0f500,#c7ed01,#b2e702,#ace603,#bbea02,#d5f100,#ecf900,#fcfe00,#ffff00,#f1fa00,#d5f100,#aae503,#80d906,#5fce0a,#55ca0b,#5ccd0a,#6bd208,#79d707,#7dd806,#71d408,#5bcc0a,#42c30d,#2ebd0f,#27bb0f,#32be0f,#49c60c,#64d009,#78d707,#7ed906,#6fd308,#4ec80c,#21b90f,#00a51b,#008943,#007268,#005f83,#005690,#005b89,#007169,#007169,#007169)"></i><i style="background:linear-gradient(90deg,#ffba00,#ffba00,#ffba00,#ffb900,#ffb800,#ffb600,#ffb300,#ffb100,#ffaf00,#ffad00,#ffac00,#ffac00,#ffad00,#ffaf00,#ffb200,#ffb500,#ffb700,#ffb700,#ffb400,#ffaf00,#ffa900,#ffa000,#ff8f00,#ff8000,#ff7f00,#ff8a00,#ff9600,#ff9e00,#ffa300,#ffa700,#ffac00,#ffb100,#ffb600,#ffbc00,#ffc300,#ffca00,#ffd100,#ffd700,#ffdd00,#ffe100,#ffe500,#ffe900,#ffeb00,#ffed00,#ffee00,#ffef00,#fff000,#fff200,#fff300,#fff500,#fff700,#fff900,#fffa00,#fff900,#fff900,#fff900,#fff900,#fffc00,#fcfe00,#f1fa00,#e7f700,#e1f500,#e1f500,#e8f700,#f4fb00,#fffe00,#fffb00,#fffc00,#f5fc00,#ddf400,#c1eb01,#abe603,#a9e503,#bfeb01,#dff400,#fbfe00,#fff700,#fff400,#fffc00,#e6f700,#bcea01,#8fde04,#6cd208,#61ce0a,#68d109,#7ad707,#8add05,#91df04,#89dc05,#74d507,#5ccd0a,#48c60c,#40c30d,#49c60c,#5ecd0a,#76d607,#89dc05,#8ede05,#82da06,#65d009,#3dc20e,#10b40f,#009d26,#008648,#007562,#006c71,#006e6e,#007d57,#007d57,#007d57)"></i><i style="background:linear-gradient(90deg,#ffbb00,#ffbb00,#ffbb00,#ffbc00,#ffbb00,#ffba00,#ffb800,#ffb600,#ffb500,#ffb400,#ffb300,#ffb400,#ffb600,#ffb900,#ffbe00,#ffc200,#ffc400,#ffc200,#ffbc00,#ffb500,#ffad00,#ffa300,#ff9100,#ff8200,#ff8000,#ff8a00,#ff9500,#ff9c00,#ffa100,#ffa400,#ffa800,#ffac00,#ffb000,#ffb400,#ffb900,#ffbf00,#ffc500,#ffcb00,#ffd200,#ffd900,#ffde00,#ffe300,#ffe600,#ffe900,#ffea00,#ffec00,#ffec00,#ffee00,#ffef00,#fff100,#fff300,#fff400,#fff400,#fff300,#fff300,#fff200,#fff300,#fff500,#fffa00,#feff00,#f3fb00,#ebf800,#eaf800,#f0fa00,#fafd00,#fffc00,#fff900,#fffb00,#f5fc00,#dcf300,#beeb01,#aae503,#ace603,#c9ee01,#ebf800,#fff900,#ffed00,#ffeb00,#fff300,#f6fc00,#cfef00,#9fe203,#7cd806,#70d408,#79d707,#8cdd05,#9de204,#a6e403,#a2e303,#92df04,#7ed906,#6bd208,#62cf09,#67d109,#76d607,#89dc05,#96e004,#9be104,#93df04,#7ed906,#5ece0a,#39c10e,#13b50f,#00a51c,#009334,#008846,#00834d,#008846,#008846,#008846)"></i><i style="background:linear-gradient(90deg,#ffbc00,#ffbc00,#ffbd00,#ffbf00,#ffc000,#ffc000,#ffbf00,#ffbf00,#ffbf00,#ffc000,#ffc200,#ffc600,#ffcb00,#ffd200,#ffda00,#ffe100,#ffe500,#ffe300,#ffda00,#ffc900,#ffb700,#ffa900,#ff9800,#ff8700,#ff8300,#ff8a00,#ff9300,#ff9800,#ff9c00,#ffa000,#ffa300,#ffa600,#ffa900,#ffac00,#ffb000,#ffb300,#ffb700,#ffbd00,#ffc500,#ffcd00,#ffd500,#ffdc00,#ffe100,#ffe400,#ffe600,#ffe700,#ffe800,#ffe900,#ffea00,#ffeb00,#ffed00,#ffee00,#ffee00,#ffed00,#ffec00,#ffeb00,#ffeb00,#ffee00,#fff200,#fff800,#fffe00,#f9fd00,#f6fc00,#fafd00,#fffe00,#fff900,#fff700,#fff900,#f9fd00,#e2f500,#c9ee01,#b9e902,#c1eb01,#ddf400,#feff00,#ffef00,#ffe400,#ffe200,#ffeb00,#fffc00,#ddf400,#b0e702,#8fde04,#84db05,#8cdd05,#9ee203,#b1e702,#bdeb01,#bdea01,#b2e702,#a2e303,#93df04,#89dd05,#89dd05,#90de04,#9ae104,#a3e403,#a7e503,#a2e303,#96e004,#83db05,#69d109,#4cc70c,#2ebd0f,#11b40f,#00a916,#009c27,#009335,#009335,#009335)"></i><i style="background:linear-gradient(90deg,#ffbd00,#ffbd00,#ffbd00,#ffc100,#ffc400,#ffc600,#ffc800,#ffcb00,#ffcf00,#ffd500,#ffdc00,#ffe400,#ffee00,#fffb00,#e1f500,#aae503,#76d607,#6ed308,#a6e403,#f6fc00,#ffde00,#ffb900,#ffa400,#ff9000,#ff8800,#ff8b00,#ff9000,#ff9400,#ff9700,#ff9a00,#ff9d00,#ffa100,#ffa300,#ffa500,#ffa700,#ffa900,#ffad00,#ffb200,#ffb800,#ffc000,#ffca00,#ffd300,#ffda00,#ffde00,#ffe000,#ffe100,#ffe200,#ffe200,#ffe300,#ffe500,#ffe600,#ffe700,#ffe700,#ffe600,#ffe400,#ffe400,#ffe400,#ffe600,#ffea00,#fff000,#fff500,#fffa00,#fffc00,#fffc00,#fff900,#fff600,#fff500,#fff700,#fffd00,#f3fb00,#e4f600,#ddf400,#e4f600,#fbfe00,#fff200,#ffe400,#ffdb00,#ffda00,#ffe400,#fff600,#eaf800,#c3ec01,#a2e303,#98e104,#a0e303,#b2e802,#c6ed01,#d4f100,#d7f200,#d2f000,#c6ed01,#b9e902,#afe702,#aae503,#aae503,#ade602,#b0e702,#b2e702,#b1e702,#ade602,#a4e403,#98e104,#88dc05,#72d408,#56cb0b,#35bf0f,#0fb30f,#009e24,#009e24,#009e24)"></i><i style="background:linear-gradient(90deg,#ffbd00,#ffbd00,#ffbd00,#ffc200,#ffc700,#ffcc00,#ffd100,#ffd700,#ffdf00,#ffe800,#fff200,#feff00,#def400,#a2e303,#35bf0f,#007a5b,#0024d2,#0005f9,#00578e,#2cbc0f,#e5f600,#ffd600,#ffaf00,#ff9b00,#ff8e00,#ff8c00,#ff8e00,#ff9000,#ff9200,#ff9400,#ff9600,#ff9900,#ff9b00,#ff9c00,#ff9e00,#ffa000,#ffa300,#ffa800,#ffae00,#ffb600,#ffbf00,#ffca00,#ffd200,#ffd700,#ffda00,#ffdb00,#ffdb00,#ffdb00,#ffdc00,#ffdd00,#ffde00,#ffdf00,#ffdf00,#ffde00,#ffdc00,#ffdb00,#ffdb00,#ffdd00,#ffe100,#ffe600,#ffec00,#fff100,#fff400,#fff400,#fff300,#fff300,#fff400,#fff600,#fff900,#fffc00,#fffe00,#fffd00,#fff900,#ffef00,#ffe300,#ffd800,#ffd000,#ffd200,#ffde00,#ffef00,#f8fd00,#d6f100,#b8e902,#aee602,#b5e802,#c7ed01,#d9f200,#e5f600,#ebf800,#e9f800,#e4f600,#dcf300,#d4f100,#cbee00,#c4ec01,#bfeb01,#bdea01,#bdea01,#bfeb01,#c2ec01,#c4ec01,#c2ec01,#bbea02,#ade602,#96e004,#72d507,#3dc20e,#00ab14,#00ab14,#00ab14)"></i><i style="background:linear-gradient(90deg,#ffbb00,#ffbb00,#ffbc00,#ffc200,#ffc800,#ffce00,#ffd400,#ffdc00,#ffe500,#ffef00,#fffb00,#eaf800,#c5ec01,#86dc05,#1fb80f,#007760,#002fc4,#001adf,#00647c,#36bf0f,#e4f600,#ffd900,#ffb200,#ff9f00,#ff9000,#ff8c00,#ff8c00,#ff8c00,#ff8d00,#ff8f00,#ff9100,#ff9200,#ff9400,#ff9400,#ff9400,#ff9500,#ff9900,#ff9f00,#ffa600,#ffae00,#ffb700,#ffc100,#ffca00,#ffcf00,#ffd200,#ffd300,#ffd300,#ffd200,#ffd200,#ffd300,#ffd400,#ffd400,#ffd400,#ffd300,#ffd200,#ffd100,#ffd100,#ffd300,#ffd700,#ffdc00,#ffe100,#ffe600,#ffea00,#ffec00,#ffed00,#fff100,#fff900,#fcfe00,#fcfe00,#fff900,#fff200,#ffed00,#ffe700,#ffdf00,#ffd500,#ffcc00,#ffc800,#ffcb00,#ffd800,#ffe900,#fffc00,#e6f700,#cfef00,#c5ed01,#cbee00,#d9f200,#e8f700,#f5fc00,#fcfe00,#feff00,#fcfe00,#f6fc00,#eef900,#e4f600,#daf300,#d2f000,#cbee00,#c9ed01,#cdef00,#d5f100,#dcf300,#e1f500,#e1f500,#dbf300,#c9ee01,#a4e403,#68d109,#10b40f,#10b40f,#10b40f)"></i><i style="background:linear-gradient(90deg,#ffb800,#ffb900,#ffb900,#ffbf00,#ffc500,#ffcb00,#ffd100,#ffd800,#ffdf00,#ffe800,#fff200,#fffc00,#edf900,#d3f000,#aae503,#7ed906,#5ecd0a,#66d009,#a1e303,#eef900,#ffe500,#ffc200,#ffab00,#ff9a00,#ff8d00,#ff8900,#ff8800,#ff8900,#ff8900,#ff8b00,#ff8d00,#ff8f00,#ff8f00,#ff8f00,#ff8e00,#ff8e00,#ff9100,#ff9600,#ffa000,#ffa800,#ffb100,#ffb900,#ffc100,#ffc700,#ffc900,#ffca00,#ffc900,#ffc800,#ffc700,#ffc700,#ffc700,#ffc700,#ffc700,#ffc600,#ffc600,#ffc500,#ffc600,#ffc800,#ffcb00,#ffd000,#ffd500,#ffdb00,#ffdf00,#ffe300,#ffe700,#fff200,#f1fa00,#caee01,#d2f000,#fcfe00,#ffec00,#ffe100,#ffda00,#ffd100,#ffc900,#ffc200,#ffc100,#ffc600,#ffd300,#ffe400,#fff400,#f6fc00,#e2f500,#daf300,#def400,#e8f700,#f5fc00,#fffd00,#fff900,#fff600,#fff600,#fff800,#fffc00,#f9fd00,#ecf900,#e0f500,#d8f200,#d5f100,#d8f200,#e1f500,#ebf800,#f4fb00,#f9fd00,#f5fc00,#e7f700,#c7ed01,#8add05,#27bb0f,#27bb0f,#27bb0f)"></i><i style="background:linear-gradient(90deg,#ffb500,#ffb500,#ffb500,#ffba00,#ffbf00,#ffc400,#ffc800,#ffcd00,#ffd300,#ffd900,#ffdf00,#ffe500,#ffeb00,#fff200,#fff700,#fffa00,#fffa00,#fff400,#ffe800,#ffd700,#ffc100,#ffb000,#ffa200,#ff9300,#ff8a00,#ff8700,#ff8600,#ff8700,#ff8800,#ff8a00,#ff8c00,#ff8e00,#ff8e00,#ff8e00,#ff8d00,#ff8c00,#ff8e00,#ff9300,#ff9b00,#ffa400,#ffac00,#ffb300,#ffb900,#ffbe00,#ffc000,#ffc000,#ffbe00,#ffbd00,#ffbc00,#ffbb00,#ffba00,#ffb900,#ffb900,#ffb900,#ffb900,#ffb900,#ffba00,#ffbc00,#ffbf00,#ffc300,#ffc800,#ffcd00,#ffd200,#ffd800,#ffe000,#fff100,#daf300,#90de04,#9de204,#edf900,#ffe900,#ffd800,#ffce00,#ffc700,#ffc000,#ffbc00,#ffbc00,#ffc100,#ffce00,#ffde00,#ffed00,#fffb00,#f4fb00,#ecf900,#eef900,#f6fc00,#fffe00,#fff800,#fff300,#fff000,#ffef00,#fff000,#fff300,#fff900,#fcfe00,#eef900,#e4f600,#dff400,#e2f500,#ebf800,#f6fc00,#ffff00,#fffc00,#fffd00,#f6fc00,#daf300,#a1e303,#42c30d,#42c30d,#42c30d)"></i><i style="background:linear-gradient(90deg,#ffb100,#ffb100,#ffb100,#ffb500,#ffb800,#ffbb00,#ffbf00,#ffc200,#ffc500,#ffc800,#ffcc00,#ffd000,#ffd300,#ffd700,#ffda00,#ffdb00,#ffd900,#ffd300,#ffca00,#ffbd00,#ffb200,#ffa700,#ff9c00,#ff9000,#ff8800,#ff8600,#ff8600,#ff8600,#ff8800,#ff8a00,#ff8d00,#ff8f00,#ff9000,#ff9000,#ff8f00,#ff8e00,#ff8f00,#ff9300,#ff9a00,#ffa200,#ffa800,#ffae00,#ffb300,#ffb600,#ffb700,#ffb600,#ffb500,#ffb400,#ffb200,#ffb100,#ffb000,#ffaf00,#ffae00,#ffae00,#ffaf00,#ffb000,#ffb100,#ffb300,#ffb500,#ffb700,#ffbb00,#ffbf00,#ffc500,#ffcb00,#ffd500,#ffe900,#e8f700,#a1e303,#ade602,#f9fd00,#ffe200,#ffd000,#ffc600,#ffc000,#ffba00,#ffb800,#ffb900,#ffbe00,#ffc900,#ffd800,#ffe600,#fff200,#fffb00,#feff00,#fdfe00,#fffd00,#fff900,#fff400,#ffef00,#ffec00,#ffea00,#ffea00,#ffec00,#fff200,#fff900,#fcfe00,#f1fa00,#ebf800,#ecf900,#f3fb00,#fcfe00,#fffc00,#fffa00,#fffb00,#fcfe00,#e3f600,#b2e702,#5ecd0a,#5ecd0a,#5ecd0a)"></i><i style="background:linear-gradient(90deg,#ffad00,#ffad00,#ffad00,#ffb000,#ffb200,#ffb400,#ffb600,#ffb700,#ffb900,#ffba00,#ffbc00,#ffbe00,#ffc000,#ffc300,#ffc400,#ffc500,#ffc300,#ffbf00,#ffb800,#ffb200,#ffaa00,#ffa200,#ff9800,#ff8e00,#ff8900,#ff8600,#ff8600,#ff8700,#ff8900,#ff8b00,#ff8e00,#ff9100,#ff9300,#ff9300,#ff9300,#ff9200,#ff9300,#ff9600,#ff9b00,#ffa100,#ffa500,#ffa900,#ffad00,#ffaf00,#ffaf00,#ffaf00,#ffad00,#ffac00,#ffaa00,#ffa800,#ffa600,#ffa500,#ffa400,#ffa400,#ffa500,#ffa700,#ffa900,#ffab00,#ffad00,#ffaf00,#ffb100,#ffb400,#ffb800,#ffbe00,#ffc700,#ffd800,#fff100,#f2fb00,#f7fc00,#ffed00,#ffd600,#ffc800,#ffc000,#ffbb00,#ffb800,#ffb600,#ffb700,#ffbc00,#ffc500,#ffd200,#ffdf00,#ffea00,#fff200,#fff700,#fff800,#fff700,#fff400,#fff100,#ffec00,#ffe900,#ffe600,#ffe500,#ffe700,#ffec00,#fff300,#fffa00,#feff00,#f6fc00,#f6fc00,#fafd00,#fffe00,#fffb00,#fffa00,#fffb00,#fcfe00,#e7f700,#c0eb01,#7bd806,#7bd806,#7bd806)"></i><i style="background:linear-gradient(90deg,#ffa900,#ffa900,#ffa900,#ffaa00,#ffac00,#ffad00,#ffae00,#ffaf00,#ffb000,#ffb000,#ffb100,#ffb200,#ffb300,#ffb400,#ffb500,#ffb500,#ffb400,#ffb200,#ffaf00,#ffaa00,#ffa400,#ff9e00,#ff9500,#ff8e00,#ff8900,#ff8700,#ff8700,#ff8800,#ff8a00,#ff8d00,#ff9000,#ff9300,#ff9600,#ff9700,#ff9700,#ff9800,#ff9800,#ff9a00,#ff9d00,#ffa000,#ffa300,#ffa500,#ffa700,#ffa800,#ffa800,#ffa700,#ffa600,#ffa400,#ffa100,#ff9e00,#ff9b00,#ff9800,#ff9700,#ff9800,#ff9a00,#ff9e00,#ffa100,#ffa300,#ffa500,#ffa700,#ffa900,#ffab00,#ffaf00,#ffb300,#ffb900,#ffc500,#ffd500,#ffe100,#ffe100,#ffd600,#ffca00,#ffc200,#ffbc00,#ffb900,#ffb600,#ffb600,#ffb700,#ffba00,#ffc200,#ffcd00,#ffd800,#ffe200,#ffea00,#ffef00,#fff100,#fff200,#fff000,#ffee00,#ffea00,#ffe600,#ffe300,#ffe200,#ffe300,#ffe700,#ffed00,#fff300,#fff900,#fffe00,#ffff00,#fffe00,#fffd00,#fffb00,#fffb00,#fffc00,#fbfe00,#e9f800,#cdef00,#98e104,#98e104,#98e104)"></i><i style="background:linear-gradient(90deg,#ffa400,#ffa400,#ffa400,#ffa500,#ffa600,#ffa600,#ffa700,#ffa700,#ffa700,#ffa700,#ffa800,#ffa800,#ffa900,#ffa900,#ffaa00,#ffaa00,#ffaa00,#ffa800,#ffa600,#ffa300,#ff9f00,#ff9800,#ff9200,#ff8d00,#ff8a00,#ff8800,#ff8700,#ff8800,#ff8a00,#ff8d00,#ff9100,#ff9500,#ff9800,#ff9a00,#ff9b00,#ff9c00,#ff9d00,#ff9e00,#ff9e00,#ff9f00,#ffa000,#ffa100,#ffa100,#ffa100,#ffa000,#ff9f00,#ff9d00,#ff9a00,#ff9600,#ff9200,#ff8e00,#ff8b00,#ff8a00,#ff8b00,#ff8e00,#ff9200,#ff9600,#ff9a00,#ff9d00,#ff9f00,#ffa100,#ffa300,#ffa700,#ffab00,#ffb100,#ffb700,#ffc000,#ffc700,#ffc900,#ffc600,#ffc200,#ffbe00,#ffba00,#ffb800,#ffb600,#ffb600,#ffb600,#ffb900,#ffc000,#ffc800,#ffd200,#ffdb00,#ffe200,#ffe700,#ffeb00,#ffec00,#ffec00,#ffeb00,#ffe800,#ffe400,#ffe100,#ffdf00,#ffdf00,#ffe300,#ffe800,#ffee00,#fff400,#fff800,#fffb00,#fffb00,#fffb00,#fffb00,#fffb00,#fffd00,#fbfe00,#eef900,#d9f200,#b4e802,#b4e802,#b4e802)"></i><i style="background:linear-gradient(90deg,#ffa000,#ffa000,#ffa000,#ffa000,#ffa000,#ffa000,#ffa000,#ffa000,#ffa000,#ffa000,#ffa000,#ffa000,#ffa000,#ffa000,#ffa100,#ffa100,#ffa100,#ffa000,#ff9e00,#ff9b00,#ff9700,#ff9300,#ff8f00,#ff8c00,#ff8900,#ff8800,#ff8700,#ff8800,#ff8a00,#ff8d00,#ff9000,#ff9400,#ff9800,#ff9b00,#ff9e00,#ff9f00,#ffa000,#ffa000,#ff9f00,#ff9e00,#ff9c00,#ff9a00,#ff9800,#ff9700,#ff9600,#ff9400,#ff9300,#ff9000,#ff8c00,#ff8800,#ff8400,#ff8100,#ff8000,#ff8100,#ff8400,#ff8800,#ff8c00,#ff9000,#ff9300,#ff9500,#ff9700,#ff9b00,#ffa000,#ffa500,#ffaa00,#ffb000,#ffb600,#ffba00,#ffbd00,#ffbe00,#ffbd00,#ffbb00,#ffb900,#ffb800,#ffb700,#ffb600,#ffb700,#ffb900,#ffbe00,#ffc500,#ffcd00,#ffd500,#ffdc00,#ffe100,#ffe500,#ffe800,#ffe800,#ffe800,#ffe500,#ffe200,#ffde00,#ffdc00,#ffdc00,#ffdf00,#ffe300,#ffe900,#ffef00,#fff300,#fff600,#fff800,#fff800,#fff900,#fff900,#fffb00,#fffe00,#f7fc00,#e8f700,#d2f000,#d2f000,#d2f000)"></i><i style="background:linear-gradient(90deg,#ff9a00,#ff9a00,#ff9a00,#ff9a00,#ff9a00,#ff9900,#ff9800,#ff9800,#ff9700,#ff9700,#ff9600,#ff9600,#ff9600,#ff9600,#ff9700,#ff9700,#ff9700,#ff9600,#ff9500,#ff9400,#ff9200,#ff8f00,#ff8d00,#ff8a00,#ff8800,#ff8700,#ff8600,#ff8600,#ff8800,#ff8b00,#ff8e00,#ff9200,#ff9600,#ff9900,#ff9d00,#ff9f00,#ffa000,#ffa000,#ff9e00,#ff9a00,#ff9600,#ff9200,#ff8f00,#ff8d00,#ff8c00,#ff8a00,#ff8900,#ff8700,#ff8400,#ff8100,#ff7d00,#ff7b00,#ff7a00,#ff7b00,#ff7d00,#ff8100,#ff8500,#ff8800,#ff8b00,#ff8d00,#ff8f00,#ff9300,#ff9800,#ff9f00,#ffa500,#ffab00,#ffb000,#ffb400,#ffb700,#ffb900,#ffba00,#ffb900,#ffb900,#ffb800,#ffb700,#ffb700,#ffb800,#ffb900,#ffbd00,#ffc300,#ffc900,#ffcf00,#ffd600,#ffdc00,#ffe000,#ffe300,#ffe400,#ffe400,#ffe200,#ffde00,#ffdb00,#ffd800,#ffd700,#ffda00,#ffdf00,#ffe500,#ffeb00,#ffef00,#fff200,#fff300,#fff400,#fff400,#fff400,#fff400,#fff600,#fffb00,#fbfe00,#e9f800,#e9f800,#e9f800)"></i><i style="background:linear-gradient(90deg,#ff9600,#ff9600,#ff9600,#ff9500,#ff9400,#ff9400,#ff9300,#ff9200,#ff9100,#ff9100,#ff9000,#ff9000,#ff9000,#ff9000,#ff9000,#ff9000,#ff9000,#ff9000,#ff9000,#ff8f00,#ff8d00,#ff8c00,#ff8a00,#ff8800,#ff8600,#ff8500,#ff8400,#ff8400,#ff8500,#ff8700,#ff8a00,#ff8d00,#ff9100,#ff9600,#ff9b00,#ffa000,#ffa100,#ffa000,#ff9c00,#ff9600,#ff9100,#ff8b00,#ff8700,#ff8400,#ff8200,#ff8200,#ff8100,#ff8000,#ff7e00,#ff7c00,#ff7a00,#ff7800,#ff7700,#ff7800,#ff7a00,#ff7c00,#ff7f00,#ff8200,#ff8400,#ff8700,#ff8a00,#ff8d00,#ff9300,#ff9a00,#ffa100,#ffa700,#ffac00,#ffb000,#ffb400,#ffb600,#ffb800,#ffb800,#ffb900,#ffb800,#ffb800,#ffb800,#ffb800,#ffb900,#ffbd00,#ffc100,#ffc600,#ffcb00,#ffd100,#ffd600,#ffdb00,#ffde00,#ffe000,#ffdf00,#ffdd00,#ffd900,#ffd500,#ffd200,#ffd200,#ffd500,#ffdb00,#ffe100,#ffe700,#ffeb00,#ffee00,#ffee00,#ffed00,#ffec00,#ffeb00,#ffea00,#ffeb00,#ffef00,#fff500,#fffe00,#fffe00,#fffe00)"></i><i style="background:linear-gradient(90deg,#ff9200,#ff9200,#ff9200,#ff9100,#ff9100,#ff9000,#ff8f00,#ff8e00,#ff8d00,#ff8d00,#ff8c00,#ff8c00,#ff8c00,#ff8c00,#ff8c00,#ff8c00,#ff8c00,#ff8c00,#ff8c00,#ff8b00,#ff8a00,#ff8900,#ff8700,#ff8500,#ff8400,#ff8200,#ff8100,#ff8100,#ff8100,#ff8200,#ff8400,#ff8700,#ff8c00,#ff9300,#ff9d00,#ffa400,#ffa600,#ffa300,#ff9c00,#ff9300,#ff8b00,#ff8400,#ff7f00,#ff7c00,#ff7b00,#ff7a00,#ff7a00,#ff7a00,#ff7a00,#ff7900,#ff7800,#ff7600,#ff7600,#ff7600,#ff7800,#ff7900,#ff7b00,#ff7d00,#ff8000,#ff8200,#ff8600,#ff8a00,#ff8f00,#ff9600,#ff9e00,#ffa300,#ffa800,#ffad00,#ffb000,#ffb300,#ffb600,#ffb700,#ffb800,#ffb900,#ffb900,#ffb800,#ffb900,#ffb900,#ffbc00,#ffbf00,#ffc300,#ffc800,#ffcd00,#ffd100,#ffd500,#ffd900,#ffda00,#ffd900,#ffd600,#ffd200,#ffce00,#ffcb00,#ffcb00,#ffcf00,#ffd600,#ffdd00,#ffe300,#ffe700,#ffe800,#ffe700,#ffe500,#ffe200,#ffdf00,#ffde00,#ffde00,#ffe100,#ffe700,#fff200,#fff200,#fff200)"></i><i style="background:linear-gradient(90deg,#ff8e00,#ff8e00,#ff8e00,#ff8e00,#ff8e00,#ff8d00,#ff8c00,#ff8c00,#ff8b00,#ff8b00,#ff8a00,#ff8a00,#ff8a00,#ff8a00,#ff8a00,#ff8a00,#ff8b00,#ff8a00,#ff8a00,#ff8900,#ff8800,#ff8600,#ff8500,#ff8300,#ff8100,#ff8000,#ff7f00,#ff7e00,#ff7d00,#ff7e00,#ff7f00,#ff8100,#ff8700,#ff9100,#ffa100,#ffab00,#ffae00,#ffa800,#ff9d00,#ff8f00,#ff8600,#ff7e00,#ff7900,#ff7500,#ff7300,#ff7300,#ff7400,#ff7500,#ff7600,#ff7700,#ff7700,#ff7700,#ff7700,#ff7700,#ff7700,#ff7700,#ff7900,#ff7a00,#ff7d00,#ff8000,#ff8400,#ff8900,#ff8e00,#ff9400,#ff9b00,#ffa100,#ffa500,#ffaa00,#ffae00,#ffb100,#ffb400,#ffb600,#ffb800,#ffb800,#ffb900,#ffb800,#ffb800,#ffb900,#ffba00,#ffbd00,#ffc000,#ffc400,#ffc800,#ffcc00,#ffcf00,#ffd200,#ffd200,#ffd100,#ffce00,#ffca00,#ffc500,#ffc300,#ffc300,#ffc800,#ffcf00,#ffd700,#ffdd00,#ffe100,#ffe200,#ffdf00,#ffdb00,#ffd600,#ffd100,#ffcd00,#ffcc00,#ffcf00,#ffd800,#ffe400,#ffe400,#ffe400)"></i><i style="background:linear-gradient(90deg,#ff8b00,#ff8b00,#ff8b00,#ff8b00,#ff8b00,#ff8b00,#ff8a00,#ff8a00,#ff8a00,#ff8900,#ff8900,#ff8900,#ff8900,#ff8900,#ff8900,#ff8a00,#ff8a00,#ff8900,#ff8800,#ff8700,#ff8600,#ff8400,#ff8200,#ff8100,#ff7f00,#ff7d00,#ff7c00,#ff7b00,#ff7a00,#ff7900,#ff7a00,#ff7c00,#ff8100,#ff8b00,#ff9d00,#ffa900,#ffac00,#ffa600,#ff9900,#ff8b00,#ff8100,#ff7900,#ff7300,#ff6f00,#ff6d00,#ff6e00,#ff6f00,#ff7100,#ff7300,#ff7500,#ff7700,#ff7800,#ff7800,#ff7700,#ff7700,#ff7700,#ff7700,#ff7800,#ff7b00,#ff7f00,#ff8300,#ff8900,#ff8e00,#ff9400,#ff9a00,#ffa000,#ffa300,#ffa700,#ffab00,#ffaf00,#ffb200,#ffb500,#ffb700,#ffb800,#ffb800,#ffb700,#ffb700,#ffb700,#ffb800,#ffba00,#ffbc00,#ffbf00,#ffc200,#ffc500,#ffc800,#ffc900,#ffc900,#ffc800,#ffc400,#ffbf00,#ffbb00,#ffb900,#ffba00,#ffbe00,#ffc600,#ffce00,#ffd500,#ffd800,#ffd800,#ffd400,#ffce00,#ffc700,#ffc000,#ffbb00,#ffba00,#ffbd00,#ffc600,#ffd600,#ffd600,#ffd600)"></i><i style="background:linear-gradient(90deg,#ff8900,#ff8900,#ff8900,#ff8900,#ff8900,#ff8900,#ff8900,#ff8800,#ff8800,#ff8800,#ff8800,#ff8800,#ff8800,#ff8900,#ff8900,#ff8900,#ff8900,#ff8800,#ff8700,#ff8600,#ff8400,#ff8200,#ff8000,#ff7f00,#ff7d00,#ff7b00,#ff7a00,#ff7800,#ff7700,#ff7600,#ff7500,#ff7700,#ff7a00,#ff8200,#ff8e00,#ff9a00,#ff9e00,#ff9900,#ff8e00,#ff8400,#ff7c00,#ff7500,#ff6f00,#ff6b00,#ff6a00,#ff6a00,#ff6c00,#ff6f00,#ff7100,#ff7400,#ff7600,#ff7800,#ff7800,#ff7800,#ff7700,#ff7600,#ff7600,#ff7800,#ff7b00,#ff7f00,#ff8400,#ff8a00,#ff9000,#ff9500,#ff9a00,#ff9e00,#ffa200,#ffa500,#ffa900,#ffad00,#ffb000,#ffb300,#ffb500,#ffb600,#ffb600,#ffb500,#ffb500,#ffb500,#ffb500,#ffb600,#ffb800,#ffb900,#ffbb00,#ffbd00,#ffbe00,#ffbf00,#ffbe00,#ffbc00,#ffb800,#ffb500,#ffb200,#ffb100,#ffb100,#ffb500,#ffba00,#ffc100,#ffc800,#ffcb00,#ffca00,#ffc500,#ffbe00,#ffb700,#ffb200,#ffae00,#ffad00,#ffaf00,#ffb500,#ffc400,#ffc400,#ffc400)"></i><i style="background:linear-gradient(90deg,#ff8600,#ff8600,#ff8600,#ff8600,#ff8600,#ff8600,#ff8700,#ff8700,#ff8700,#ff8700,#ff8700,#ff8700,#ff8700,#ff8700,#ff8700,#ff8800,#ff8700,#ff8700,#ff8600,#ff8400,#ff8200,#ff8100,#ff7f00,#ff7d00,#ff7c00,#ff7a00,#ff7900,#ff7700,#ff7500,#ff7300,#ff7300,#ff7300,#ff7600,#ff7b00,#ff8100,#ff8700,#ff8b00,#ff8a00,#ff8500,#ff7f00,#ff7900,#ff7300,#ff6d00,#ff6a00,#ff6900,#ff6900,#ff6b00,#ff6d00,#ff6f00,#ff7200,#ff7400,#ff7600,#ff7700,#ff7700,#ff7600,#ff7600,#ff7600,#ff7900,#ff7c00,#ff8100,#ff8700,#ff8c00,#ff9200,#ff9600,#ff9a00,#ff9e00,#ffa100,#ffa400,#ffa700,#ffaa00,#ffad00,#ffb000,#ffb200,#ffb200,#ffb200,#ffb200,#ffb100,#ffb100,#ffb100,#ffb200,#ffb200,#ffb300,#ffb400,#ffb500,#ffb500,#ffb500,#ffb400,#ffb200,#ffaf00,#ffac00,#ffa900,#ffa700,#ffa800,#ffaa00,#ffaf00,#ffb300,#ffb700,#ffb900,#ffb800,#ffb500,#ffb000,#ffab00,#ffa600,#ffa300,#ffa200,#ffa400,#ffaa00,#ffb400,#ffb400,#ffb400)"></i><i style="background:linear-gradient(90deg,#ff8300,#ff8300,#ff8300,#ff8400,#ff8400,#ff8400,#ff8400,#ff8400,#ff8400,#ff8400,#ff8400,#ff8500,#ff8500,#ff8500,#ff8500,#ff8500,#ff8500,#ff8500,#ff8400,#ff8200,#ff8100,#ff7f00,#ff7d00,#ff7c00,#ff7b00,#ff7900,#ff7800,#ff7600,#ff7500,#ff7300,#ff7200,#ff7200,#ff7400,#ff7800,#ff7b00,#ff7f00,#ff8200,#ff8200,#ff8000,#ff7c00,#ff7800,#ff7200,#ff6e00,#ff6b00,#ff6a00,#ff6a00,#ff6b00,#ff6c00,#ff6e00,#ff7000,#ff7100,#ff7200,#ff7300,#ff7400,#ff7400,#ff7500,#ff7700,#ff7a00,#ff7e00,#ff8400,#ff8a00,#ff8f00,#ff9500,#ff9900,#ff9c00,#ff9f00,#ffa100,#ffa300,#ffa500,#ffa800,#ffaa00,#ffac00,#ffae00,#ffae00,#ffae00,#ffad00,#ffad00,#ffac00,#ffac00,#ffac00,#ffac00,#ffac00,#ffac00,#ffac00,#ffac00,#ffab00,#ffaa00,#ffa700,#ffa500,#ffa100,#ff9e00,#ff9b00,#ff9b00,#ff9e00,#ffa200,#ffa600,#ffa900,#ffaa00,#ffa900,#ffa700,#ffa300,#ff9f00,#ff9900,#ff9500,#ff9400,#ff9600,#ff9e00,#ffa700,#ffa700,#ffa700)"></i><i style="background:linear-gradient(90deg,#ff8100,#ff8100,#ff8100,#ff8100,#ff8100,#ff8100,#ff8100,#ff8200,#ff8200,#ff8200,#ff8200,#ff8200,#ff8200,#ff8200,#ff8300,#ff8300,#ff8300,#ff8200,#ff8100,#ff8000,#ff7f00,#ff7d00,#ff7c00,#ff7b00,#ff7a00,#ff7900,#ff7800,#ff7700,#ff7500,#ff7400,#ff7300,#ff7300,#ff7400,#ff7700,#ff7a00,#ff7c00,#ff7e00,#ff7f00,#ff7d00,#ff7b00,#ff7800,#ff7300,#ff7000,#ff6d00,#ff6c00,#ff6c00,#ff6c00,#ff6c00,#ff6c00,#ff6d00,#ff6d00,#ff6e00,#ff6f00,#ff7000,#ff7200,#ff7500,#ff7800,#ff7c00,#ff8200,#ff8700,#ff8d00,#ff9300,#ff9800,#ff9b00,#ff9e00,#ffa000,#ffa100,#ffa300,#ffa400,#ffa600,#ffa700,#ffa800,#ffa900,#ffa900,#ffa900,#ffa800,#ffa700,#ffa700,#ffa600,#ffa500,#ffa500,#ffa500,#ffa400,#ffa300,#ffa300,#ffa100,#ff9f00,#ff9c00,#ff9700,#ff9200,#ff8d00,#ff8a00,#ff8900,#ff8a00,#ff8e00,#ff9100,#ff9500,#ff9700,#ff9600,#ff9400,#ff9100,#ff8d00,#ff8a00,#ff8800,#ff8700,#ff8900,#ff8e00,#ff9700,#ff9700,#ff9700)"></i><i style="background:linear-gradient(90deg,#ff7e00,#ff7e00,#ff7e00,#ff7e00,#ff7e00,#ff7f00,#ff7f00,#ff7f00,#ff7f00,#ff7f00,#ff7f00,#ff7f00,#ff7f00,#ff7f00,#ff8000,#ff8000,#ff8000,#ff7f00,#ff7f00,#ff7e00,#ff7d00,#ff7c00,#ff7b00,#ff7a00,#ff7a00,#ff7900,#ff7800,#ff7700,#ff7600,#ff7500,#ff7500,#ff7400,#ff7500,#ff7700,#ff7900,#ff7b00,#ff7c00,#ff7c00,#ff7c00,#ff7a00,#ff7800,#ff7500,#ff7200,#ff7100,#ff6f00,#ff6e00,#ff6d00,#ff6d00,#ff6b00,#ff6a00,#ff6a00,#ff6a00,#ff6b00,#ff6d00,#ff7000,#ff7500,#ff7a00,#ff7f00,#ff8500,#ff8b00,#ff9100,#ff9700,#ff9b00,#ff9f00,#ffa100,#ffa100,#ffa200,#ffa300,#ffa300,#ffa400,#ffa400,#ffa500,#ffa500,#ffa400,#ffa400,#ffa300,#ffa200,#ffa100,#ffa000,#ff9f00,#ff9d00,#ff9c00,#ff9a00,#ff9800,#ff9600,#ff9400,#ff9100,#ff8d00,#ff8800,#ff8300,#ff7e00,#ff7a00,#ff7800,#ff7700,#ff7800,#ff7a00,#ff7c00,#ff7e00,#ff7e00,#ff7e00,#ff7e00,#ff7d00,#ff7d00,#ff7c00,#ff7d00,#ff7e00,#ff7f00,#ff8300,#ff8300,#ff8300)"></i><i style="background:linear-gradient(90deg,#ff7b00,#ff7b00,#ff7b00,#ff7c00,#ff7c00,#ff7c00,#ff7c00,#ff7c00,#ff7c00,#ff7c00,#ff7c00,#ff7c00,#ff7c00,#ff7c00,#ff7c00,#ff7c00,#ff7c00,#ff7c00,#ff7c00,#ff7b00,#ff7b00,#ff7a00,#ff7a00,#ff7900,#ff7900,#ff7900,#ff7800,#ff7800,#ff7700,#ff7700,#ff7600,#ff7600,#ff7700,#ff7800,#ff7900,#ff7900,#ff7a00,#ff7a00,#ff7a00,#ff7900,#ff7800,#ff7700,#ff7500,#ff7400,#ff7200,#ff7100,#ff6f00,#ff6d00,#ff6b00,#ff6800,#ff6600,#ff6600,#ff6700,#ff6a00,#ff6f00,#ff7600,#ff7c00,#ff8300,#ff8900,#ff9000,#ff9600,#ff9b00,#ff9f00,#ffa100,#ffa200,#ffa300,#ffa300,#ffa300,#ffa300,#ffa300,#ffa200,#ffa200,#ffa100,#ffa000,#ff9f00,#ff9e00,#ff9d00,#ff9b00,#ff9900,#ff9600,#ff9400,#ff9100,#ff8f00,#ff8d00,#ff8b00,#ff8800,#ff8500,#ff8100,#ff7c00,#ff7700,#ff7000,#ff6a00,#ff6500,#ff6200,#ff6000,#ff6000,#ff6100,#ff6300,#ff6600,#ff6900,#ff6b00,#ff6e00,#ff7100,#ff7200,#ff7300,#ff7300,#ff7100,#ff6e00,#ff6e00,#ff6e00)"></i><i style="background:linear-gradient(90deg,#ff7900,#ff7900,#ff7900,#ff7900,#ff7900,#ff7900,#ff7900,#ff7900,#ff7900,#ff7900,#ff7900,#ff7900,#ff7900,#ff7900,#ff7900,#ff7900,#ff7900,#ff7900,#ff7900,#ff7900,#ff7900,#ff7900,#ff7900,#ff7900,#ff7800,#ff7800,#ff7800,#ff7800,#ff7800,#ff7800,#ff7800,#ff7800,#ff7800,#ff7800,#ff7800,#ff7800,#ff7900,#ff7900,#ff7900,#ff7900,#ff7900,#ff7800,#ff7700,#ff7600,#ff7500,#ff7300,#ff7100,#ff6e00,#ff6a00,#ff6700,#ff6400,#ff6300,#ff6400,#ff6900,#ff6f00,#ff7700,#ff7f00,#ff8600,#ff8d00,#ff9400,#ff9a00,#ff9e00,#ffa100,#ffa300,#ffa400,#ffa500,#ffa500,#ffa400,#ffa300,#ffa200,#ffa100,#ff9f00,#ff9d00,#ff9c00,#ff9a00,#ff9900,#ff9800,#ff9600,#ff9300,#ff9000,#ff8d00,#ff8900,#ff8700,#ff8500,#ff8200,#ff8000,#ff7d00,#ff7a00,#ff7400,#ff6c00,#ff6400,#ff5c00,#ff5600,#ff5000,#ff4d00,#ff4b00,#ff4b00,#ff4e00,#ff5200,#ff5700,#ff5d00,#ff6200,#ff6700,#ff6a00,#ff6b00,#ff6900,#ff6400,#ff5900,#ff5900,#ff5900)"></i><i style="background:linear-gradient(90deg,#ff7700,#ff7700,#ff7700,#ff7700,#ff7700,#ff7700,#ff7700,#ff7700,#ff7700,#ff7600,#ff7600,#ff7600,#ff7600,#ff7600,#ff7600,#ff7600,#ff7600,#ff7600,#ff7700,#ff7700,#ff7700,#ff7700,#ff7700,#ff7700,#ff7700,#ff7700,#ff7700,#ff7800,#ff7800,#ff7800,#ff7800,#ff7800,#ff7800,#ff7800,#ff7700,#ff7700,#ff7700,#ff7700,#ff7700,#ff7800,#ff7800,#ff7800,#ff7800,#ff7700,#ff7600,#ff7400,#ff7200,#ff6e00,#ff6a00,#ff6600,#ff6300,#ff6200,#ff6400,#ff6900,#ff7100,#ff7a00,#ff8200,#ff8a00,#ff9100,#ff9800,#ff9d00,#ffa100,#ffa300,#ffa500,#ffa600,#ffa700,#ffa700,#ffa600,#ffa400,#ffa300,#ffa100,#ff9e00,#ff9b00,#ff9a00,#ff9800,#ff9700,#ff9600,#ff9300,#ff9000,#ff8d00,#ff8900,#ff8500,#ff8200,#ff8100,#ff7f00,#ff7e00,#ff7c00,#ff7800,#ff7100,#ff6800,#ff5e00,#ff5400,#ff4c00,#ff4500,#ff4000,#ff3d00,#ff3d00,#ff4000,#ff4600,#ff4d00,#ff5500,#ff5c00,#ff6200,#ff6500,#ff6600,#ff6100,#ff5800,#ff4800,#ff4800,#ff4800)"></i><i style="background:linear-gradient(90deg,#ff7400,#ff7400,#ff7400,#ff7400,#ff7400,#ff7400,#ff7400,#ff7400,#ff7400,#ff7400,#ff7400,#ff7400,#ff7400,#ff7400,#ff7300,#ff7300,#ff7400,#ff7400,#ff7400,#ff7400,#ff7400,#ff7500,#ff7500,#ff7500,#ff7500,#ff7600,#ff7600,#ff7600,#ff7600,#ff7700,#ff7700,#ff7700,#ff7700,#ff7600,#ff7600,#ff7500,#ff7500,#ff7500,#ff7500,#ff7600,#ff7700,#ff7700,#ff7700,#ff7700,#ff7600,#ff7400,#ff7100,#ff6e00,#ff6a00,#ff6700,#ff6400,#ff6400,#ff6600,#ff6b00,#ff7400,#ff7c00,#ff8500,#ff8d00,#ff9400,#ff9b00,#ffa000,#ffa300,#ffa500,#ffa700,#ffa800,#ffa900,#ffa900,#ffa800,#ffa600,#ffa400,#ffa100,#ff9f00,#ff9c00,#ff9a00,#ff9900,#ff9800,#ff9600,#ff9400,#ff9000,#ff8c00,#ff8800,#ff8400,#ff8100,#ff8100,#ff8100,#ff8100,#ff7f00,#ff7c00,#ff7500,#ff6a00,#ff5e00,#ff5200,#ff4700,#ff3f00,#ff3a00,#ff3700,#ff3800,#ff3c00,#ff4300,#ff4b00,#ff5300,#ff5b00,#ff6000,#ff6300,#ff6200,#ff5b00,#ff4e00,#ff3800,#ff3800,#ff3800)"></i><i style="background:linear-gradient(90deg,#ff7100,#ff7100,#ff7100,#ff7100,#ff7100,#ff7100,#ff7100,#ff7100,#ff7100,#ff7100,#ff7100,#ff7100,#ff7100,#ff7100,#ff7100,#ff7100,#ff7100,#ff7100,#ff7100,#ff7100,#ff7200,#ff7200,#ff7200,#ff7300,#ff7300,#ff7300,#ff7300,#ff7400,#ff7400,#ff7400,#ff7500,#ff7500,#ff7400,#ff7400,#ff7300,#ff7300,#ff7200,#ff7200,#ff7300,#ff7300,#ff7400,#ff7500,#ff7500,#ff7500,#ff7400,#ff7200,#ff7000,#ff6d00,#ff6a00,#ff6800,#ff6600,#ff6600,#ff6900,#ff6f00,#ff7700,#ff7f00,#ff8800,#ff9000,#ff9600,#ff9c00,#ffa100,#ffa300,#ffa600,#ffa800,#ffa900,#ffaa00,#ffaa00,#ffa900,#ffa700,#ffa500,#ffa300,#ffa000,#ff9d00,#ff9b00,#ff9b00,#ff9a00,#ff9900,#ff9600,#ff9200,#ff8e00,#ff8900,#ff8500,#ff8300,#ff8300,#ff8500,#ff8600,#ff8600,#ff8300,#ff7c00,#ff7000,#ff6100,#ff5300,#ff4700,#ff3e00,#ff3900,#ff3800,#ff3b00,#ff4000,#ff4700,#ff4f00,#ff5700,#ff5d00,#ff6100,#ff6200,#ff5f00,#ff5600,#ff4600,#ff2c00,#ff2c00,#ff2c00)"></i><i style="background:linear-gradient(90deg,#ff6f00,#ff6f00,#ff6f00,#ff6f00,#ff6e00,#ff6e00,#ff6e00,#ff6e00,#ff6e00,#ff6e00,#ff6e00,#ff6e00,#ff6e00,#ff6e00,#ff6e00,#ff6e00,#ff6e00,#ff6e00,#ff6e00,#ff6f00,#ff6f00,#ff6f00,#ff6f00,#ff7000,#ff7000,#ff7000,#ff7000,#ff7100,#ff7100,#ff7100,#ff7100,#ff7100,#ff7100,#ff7100,#ff7000,#ff7000,#ff6f00,#ff6f00,#ff7000,#ff7000,#ff7100,#ff7200,#ff7200,#ff7200,#ff7100,#ff7000,#ff6e00,#ff6c00,#ff6a00,#ff6800,#ff6800,#ff6900,#ff6c00,#ff7200,#ff7a00,#ff8100,#ff8900,#ff9100,#ff9700,#ff9c00,#ffa100,#ffa300,#ffa500,#ffa700,#ffa900,#ffaa00,#ffaa00,#ffaa00,#ffa800,#ffa600,#ffa300,#ffa100,#ff9e00,#ff9d00,#ff9d00,#ff9c00,#ff9b00,#ff9900,#ff9500,#ff8f00,#ff8a00,#ff8600,#ff8500,#ff8600,#ff8a00,#ff8d00,#ff8e00,#ff8b00,#ff8300,#ff7800,#ff6700,#ff5700,#ff4900,#ff4100,#ff3d00,#ff3e00,#ff4200,#ff4800,#ff4f00,#ff5600,#ff5d00,#ff6200,#ff6400,#ff6300,#ff5d00,#ff5200,#ff3f00,#ff2400,#ff2400,#ff2400)"></i><i style="background:linear-gradient(90deg,#ff6b00,#ff6b00,#ff6b00,#ff6b00,#ff6b00,#ff6b00,#ff6b00,#ff6b00,#ff6b00,#ff6b00,#ff6b00,#ff6b00,#ff6b00,#ff6b00,#ff6b00,#ff6b00,#ff6b00,#ff6b00,#ff6b00,#ff6b00,#ff6b00,#ff6c00,#ff6c00,#ff6c00,#ff6c00,#ff6c00,#ff6c00,#ff6d00,#ff6d00,#ff6d00,#ff6d00,#ff6d00,#ff6d00,#ff6d00,#ff6c00,#ff6c00,#ff6c00,#ff6c00,#ff6c00,#ff6c00,#ff6d00,#ff6d00,#ff6d00,#ff6d00,#ff6d00,#ff6c00,#ff6b00,#ff6a00,#ff6900,#ff6800,#ff6900,#ff6b00,#ff6e00,#ff7400,#ff7b00,#ff8200,#ff8900,#ff9000,#ff9500,#ff9a00,#ff9e00,#ffa100,#ffa300,#ffa500,#ffa700,#ffa800,#ffa900,#ffa800,#ffa700,#ffa500,#ffa300,#ffa000,#ff9f00,#ff9e00,#ff9e00,#ff9e00,#ff9d00,#ff9b00,#ff9600,#ff9000,#ff8a00,#ff8600,#ff8500,#ff8800,#ff8d00,#ff9200,#ff9500,#ff9300,#ff8b00,#ff7e00,#ff6d00,#ff5c00,#ff4e00,#ff4600,#ff4300,#ff4600,#ff4b00,#ff5100,#ff5800,#ff5f00,#ff6400,#ff6700,#ff6700,#ff6300,#ff5b00,#ff4e00,#ff3a00,#ff1e00,#ff1e00,#ff1e00)"></i><i style="background:linear-gradient(90deg,#ff6700,#ff6700,#ff6700,#ff6700,#ff6700,#ff6700,#ff6700,#ff6700,#ff6700,#ff6700,#ff6700,#ff6700,#ff6700,#ff6700,#ff6700,#ff6700,#ff6700,#ff6700,#ff6700,#ff6700,#ff6700,#ff6800,#ff6800,#ff6800,#ff6800,#ff6800,#ff6800,#ff6800,#ff6800,#ff6800,#ff6800,#ff6800,#ff6800,#ff6800,#ff6800,#ff6800,#ff6800,#ff6800,#ff6800,#ff6800,#ff6800,#ff6800,#ff6800,#ff6800,#ff6800,#ff6800,#ff6700,#ff6700,#ff6700,#ff6700,#ff6900,#ff6b00,#ff6f00,#ff7500,#ff7b00,#ff8100,#ff8700,#ff8c00,#ff9100,#ff9500,#ff9900,#ff9c00,#ff9f00,#ffa100,#ffa300,#ffa400,#ffa500,#ffa500,#ffa400,#ffa200,#ffa000,#ff9e00,#ff9c00,#ff9c00,#ff9d00,#ff9d00,#ff9d00,#ff9a00,#ff9500,#ff8f00,#ff8900,#ff8400,#ff8400,#ff8800,#ff8e00,#ff9500,#ff9900,#ff9800,#ff9000,#ff8300,#ff7200,#ff6000,#ff5200,#ff4b00,#ff4a00,#ff4d00,#ff5300,#ff5a00,#ff6100,#ff6600,#ff6a00,#ff6b00,#ff6900,#ff6300,#ff5a00,#ff4c00,#ff3700,#ff1b00,#ff1b00,#ff1b00)"></i><i style="background:linear-gradient(90deg,#ff6300,#ff6300,#ff6300,#ff6300,#ff6300,#ff6300,#ff6300,#ff6300,#ff6300,#ff6300,#ff6300,#ff6300,#ff6300,#ff6300,#ff6300,#ff6300,#ff6300,#ff6300,#ff6300,#ff6300,#ff6300,#ff6300,#ff6300,#ff6300,#ff6300,#ff6300,#ff6300,#ff6300,#ff6300,#ff6300,#ff6300,#ff6300,#ff6300,#ff6300,#ff6300,#ff6300,#ff6300,#ff6300,#ff6300,#ff6300,#ff6300,#ff6300,#ff6300,#ff6200,#ff6200,#ff6200,#ff6200,#ff6300,#ff6400,#ff6500,#ff6700,#ff6900,#ff6d00,#ff7200,#ff7800,#ff7d00,#ff8200,#ff8600,#ff8a00,#ff8d00,#ff9000,#ff9300,#ff9500,#ff9800,#ff9a00,#ff9c00,#ff9d00,#ff9d00,#ff9c00,#ff9a00,#ff9800,#ff9700,#ff9600,#ff9700,#ff9800,#ff9a00,#ff9900,#ff9700,#ff9100,#ff8a00,#ff8300,#ff7f00,#ff7e00,#ff8300,#ff8a00,#ff9200,#ff9700,#ff9700,#ff9000,#ff8400,#ff7500,#ff6300,#ff5600,#ff4f00,#ff4f00,#ff5300,#ff5900,#ff6000,#ff6600,#ff6a00,#ff6c00,#ff6c00,#ff6900,#ff6200,#ff5800,#ff4900,#ff3500,#ff1a00,#ff1a00,#ff1a00)"></i><i style="background:linear-gradient(90deg,#ff5d00,#ff5d00,#ff5d00,#ff5d00,#ff5d00,#ff5d00,#ff5d00,#ff5d00,#ff5d00,#ff5d00,#ff5d00,#ff5d00,#ff5d00,#ff5d00,#ff5d00,#ff5d00,#ff5d00,#ff5d00,#ff5d00,#ff5d00,#ff5d00,#ff5d00,#ff5d00,#ff5d00,#ff5d00,#ff5d00,#ff5d00,#ff5d00,#ff5d00,#ff5d00,#ff5d00,#ff5d00,#ff5d00,#ff5d00,#ff5d00,#ff5d00,#ff5d00,#ff5d00,#ff5d00,#ff5d00,#ff5d00,#ff5d00,#ff5c00,#ff5c00,#ff5c00,#ff5c00,#ff5d00,#ff5e00,#ff5f00,#ff6000,#ff6200,#ff6500,#ff6800,#ff6c00,#ff7100,#ff7500,#ff7900,#ff7d00,#ff8000,#ff8200,#ff8400,#ff8600,#ff8800,#ff8a00,#ff8b00,#ff8c00,#ff8d00,#ff8d00,#ff8d00,#ff8c00,#ff8b00,#ff8b00,#ff8c00,#ff8e00,#ff9000,#ff9200,#ff9200,#ff8f00,#ff8900,#ff8100,#ff7a00,#ff7400,#ff7300,#ff7800,#ff8000,#ff8900,#ff9000,#ff9100,#ff8c00,#ff8100,#ff7300,#ff6400,#ff5800,#ff5200,#ff5200,#ff5600,#ff5c00,#ff6200,#ff6700,#ff6a00,#ff6b00,#ff6a00,#ff6600,#ff5f00,#ff5500,#ff4700,#ff3400,#ff1b00,#ff1b00,#ff1b00)"></i><i style="background:linear-gradient(90deg,#ff5700,#ff5700,#ff5700,#ff5700,#ff5700,#ff5700,#ff5700,#ff5700,#ff5700,#ff5700,#ff5700,#ff5700,#ff5700,#ff5700,#ff5700,#ff5700,#ff5700,#ff5700,#ff5700,#ff5700,#ff5700,#ff5700,#ff5700,#ff5700,#ff5700,#ff5700,#ff5600,#ff5600,#ff5600,#ff5600,#ff5600,#ff5600,#ff5600,#ff5600,#ff5700,#ff5700,#ff5700,#ff5700,#ff5700,#ff5700,#ff5600,#ff5600,#ff5600,#ff5600,#ff5600,#ff5600,#ff5700,#ff5800,#ff5900,#ff5a00,#ff5c00,#ff5f00,#ff6100,#ff6400,#ff6700,#ff6a00,#ff6d00,#ff7000,#ff7200,#ff7400,#ff7500,#ff7700,#ff7800,#ff7900,#ff7900,#ff7a00,#ff7a00,#ff7b00,#ff7b00,#ff7b00,#ff7c00,#ff7d00,#ff7f00,#ff8200,#ff8500,#ff8700,#ff8700,#ff8400,#ff7e00,#ff7500,#ff6b00,#ff6400,#ff6200,#ff6700,#ff7100,#ff7c00,#ff8300,#ff8600,#ff8300,#ff7b00,#ff6f00,#ff6200,#ff5800,#ff5300,#ff5300,#ff5600,#ff5b00,#ff6000,#ff6400,#ff6600,#ff6600,#ff6500,#ff6100,#ff5b00,#ff5100,#ff4500,#ff3400,#ff1e00,#ff1e00,#ff1e00)"></i><i style="background:linear-gradient(90deg,#ff5000,#ff5000,#ff5000,#ff5000,#ff5000,#ff5000,#ff5000,#ff5000,#ff5000,#ff5100,#ff5100,#ff5100,#ff5100,#ff5100,#ff5100,#ff5100,#ff5100,#ff5100,#ff5000,#ff5000,#ff5000,#ff5000,#ff5000,#ff5000,#ff5000,#ff5000,#ff5000,#ff5000,#ff5000,#ff5000,#ff5000,#ff5000,#ff5000,#ff5000,#ff5000,#ff5000,#ff5000,#ff5000,#ff5000,#ff5000,#ff5000,#ff5000,#ff4f00,#ff4f00,#ff4f00,#ff5000,#ff5000,#ff5100,#ff5200,#ff5300,#ff5500,#ff5700,#ff5800,#ff5a00,#ff5c00,#ff5d00,#ff5e00,#ff6000,#ff6100,#ff6200,#ff6200,#ff6300,#ff6300,#ff6200,#ff6200,#ff6100,#ff6100,#ff6200,#ff6300,#ff6400,#ff6700,#ff6a00,#ff6f00,#ff7400,#ff7800,#ff7a00,#ff7b00,#ff7700,#ff6f00,#ff6400,#ff5900,#ff5100,#ff4f00,#ff5400,#ff5d00,#ff6900,#ff7300,#ff7800,#ff7800,#ff7100,#ff6800,#ff5f00,#ff5700,#ff5300,#ff5300,#ff5500,#ff5800,#ff5b00,#ff5e00,#ff5f00,#ff5f00,#ff5e00,#ff5b00,#ff5500,#ff4e00,#ff4300,#ff3400,#ff2200,#ff2200,#ff2200)"></i><i style="background:linear-gradient(90deg,#ff4a00,#ff4a00,#ff4a00,#ff4a00,#ff4a00,#ff4a00,#ff4a00,#ff4a00,#ff4a00,#ff4a00,#ff4a00,#ff4a00,#ff4a00,#ff4a00,#ff4a00,#ff4a00,#ff4a00,#ff4a00,#ff4a00,#ff4a00,#ff4900,#ff4900,#ff4900,#ff4900,#ff4900,#ff4900,#ff4900,#ff4900,#ff4900,#ff4900,#ff4900,#ff4900,#ff4900,#ff4900,#ff4900,#ff4900,#ff4900,#ff4900,#ff4900,#ff4900,#ff4900,#ff4900,#ff4900,#ff4900,#ff4900,#ff4900,#ff4900,#ff4a00,#ff4b00,#ff4c00,#ff4d00,#ff4e00,#ff4f00,#ff4f00,#ff4f00,#ff4f00,#ff4f00,#ff4f00,#ff4f00,#ff4f00,#ff4f00,#ff4e00,#ff4d00,#ff4c00,#ff4a00,#ff4800,#ff4800,#ff4800,#ff4a00,#ff4d00,#ff5100,#ff5600,#ff5c00,#ff6200,#ff6700,#ff6a00,#ff6a00,#ff6600,#ff5e00,#ff5300,#ff4800,#ff3e00,#ff3b00,#ff3f00,#ff4900,#ff5400,#ff5f00,#ff6600,#ff6800,#ff6600,#ff6100,#ff5b00,#ff5500,#ff5200,#ff5100,#ff5200,#ff5300,#ff5500,#ff5600,#ff5700,#ff5700,#ff5600,#ff5400,#ff5000,#ff4a00,#ff4100,#ff3600,#ff2700,#ff2700,#ff2700)"></i><i style="background:linear-gradient(90deg,#ff4200,#ff4200,#ff4200,#ff4200,#ff4200,#ff4200,#ff4200,#ff4200,#ff4200,#ff4200,#ff4200,#ff4200,#ff4200,#ff4200,#ff4200,#ff4200,#ff4200,#ff4200,#ff4200,#ff4200,#ff4200,#ff4200,#ff4200,#ff4200,#ff4200,#ff4200,#ff4200,#ff4200,#ff4200,#ff4200,#ff4200,#ff4200,#ff4200,#ff4200,#ff4200,#ff4200,#ff4200,#ff4200,#ff4200,#ff4200,#ff4200,#ff4200,#ff4200,#ff4200,#ff4200,#ff4200,#ff4200,#ff4200,#ff4300,#ff4400,#ff4500,#ff4500,#ff4500,#ff4400,#ff4300,#ff4200,#ff4000,#ff3f00,#ff3e00,#ff3d00,#ff3c00,#ff3a00,#ff3800,#ff3500,#ff3200,#ff2f00,#ff2e00,#ff2f00,#ff3200,#ff3600,#ff3d00,#ff4400,#ff4b00,#ff5100,#ff5600,#ff5900,#ff5900,#ff5500,#ff4d00,#ff4200,#ff3600,#ff2c00,#ff2800,#ff2c00,#ff3500,#ff4100,#ff4c00,#ff5500,#ff5900,#ff5a00,#ff5900,#ff5600,#ff5300,#ff5000,#ff4f00,#ff4e00,#ff4d00,#ff4d00,#ff4e00,#ff4e00,#ff4e00,#ff4e00,#ff4d00,#ff4a00,#ff4600,#ff4000,#ff3700,#ff2c00,#ff2c00,#ff2c00)"></i><i style="background:linear-gradient(90deg,#ff3b00,#ff3b00,#ff3b00,#ff3b00,#ff3b00,#ff3b00,#ff3b00,#ff3b00,#ff3b00,#ff3b00,#ff3b00,#ff3b00,#ff3b00,#ff3b00,#ff3b00,#ff3b00,#ff3b00,#ff3b00,#ff3b00,#ff3b00,#ff3b00,#ff3b00,#ff3b00,#ff3b00,#ff3b00,#ff3b00,#ff3b00,#ff3b00,#ff3b00,#ff3b00,#ff3b00,#ff3b00,#ff3b00,#ff3b00,#ff3b00,#ff3b00,#ff3b00,#ff3b00,#ff3b00,#ff3b00,#ff3b00,#ff3b00,#ff3b00,#ff3b00,#ff3b00,#ff3b00,#ff3b00,#ff3b00,#ff3b00,#ff3c00,#ff3c00,#ff3c00,#ff3b00,#ff3900,#ff3700,#ff3500,#ff3200,#ff3000,#ff2e00,#ff2c00,#ff2a00,#ff2800,#ff2500,#ff2100,#ff1e00,#ff1b00,#ff1900,#ff1a00,#ff1e00,#ff2300,#ff2b00,#ff3300,#ff3b00,#ff4200,#ff4800,#ff4a00,#ff4a00,#ff4600,#ff3d00,#ff3200,#ff2700,#ff1e00,#ff1a00,#ff1d00,#ff2500,#ff3000,#ff3c00,#ff4600,#ff4c00,#ff5000,#ff5200,#ff5100,#ff5000,#ff4e00,#ff4c00,#ff4900,#ff4700,#ff4600,#ff4500,#ff4600,#ff4600,#ff4600,#ff4600,#ff4500,#ff4300,#ff3f00,#ff3800,#ff3000,#ff3000,#ff3000)"></i><i style="background:linear-gradient(90deg,#ff3400,#ff3400,#ff3400,#ff3400,#ff3400,#ff3400,#ff3400,#ff3400,#ff3400,#ff3400,#ff3400,#ff3400,#ff3400,#ff3400,#ff3400,#ff3400,#ff3400,#ff3400,#ff3400,#ff3400,#ff3400,#ff3400,#ff3400,#ff3400,#ff3400,#ff3400,#ff3400,#ff3400,#ff3400,#ff3400,#ff3400,#ff3400,#ff3400,#ff3400,#ff3400,#ff3400,#ff3400,#ff3400,#ff3400,#ff3400,#ff3400,#ff3400,#ff3400,#ff3400,#ff3400,#ff3400,#ff3400,#ff3400,#ff3400,#ff3400,#ff3400,#ff3400,#ff3200,#ff3000,#ff2e00,#ff2a00,#ff2700,#ff2400,#ff2200,#ff1f00,#ff1d00,#ff1a00,#ff1700,#ff1300,#ff0f00,#ff0d00,#ff0c00,#ff0d00,#ff1000,#ff1700,#ff1f00,#ff2700,#ff2f00,#ff3600,#ff3b00,#ff3d00,#ff3c00,#ff3800,#ff3000,#ff2600,#ff1c00,#ff1500,#ff1200,#ff1400,#ff1b00,#ff2600,#ff3100,#ff3b00,#ff4300,#ff4900,#ff4c00,#ff4d00,#ff4d00,#ff4b00,#ff4800,#ff4500,#ff4100,#ff3f00,#ff3e00,#ff3e00,#ff3e00,#ff3f00,#ff4000,#ff4000,#ff4000,#ff3d00,#ff3a00,#ff3300,#ff3300,#ff3300)"></i><i style="background:linear-gradient(90deg,#ff2e00,#ff2e00,#ff2e00,#ff2e00,#ff2e00,#ff2e00,#ff2e00,#ff2e00,#ff2e00,#ff2e00,#ff2e00,#ff2e00,#ff2e00,#ff2e00,#ff2e00,#ff2e00,#ff2e00,#ff2e00,#ff2e00,#ff2e00,#ff2e00,#ff2e00,#ff2e00,#ff2e00,#ff2e00,#ff2e00,#ff2e00,#ff2e00,#ff2e00,#ff2e00,#ff2e00,#ff2e00,#ff2e00,#ff2e00,#ff2e00,#ff2e00,#ff2e00,#ff2e00,#ff2e00,#ff2e00,#ff2e00,#ff2e00,#ff2e00,#ff2e00,#ff2e00,#ff2e00,#ff2e00,#ff2e00,#ff2e00,#ff2e00,#ff2d00,#ff2d00,#ff2b00,#ff2900,#ff2600,#ff2200,#ff1f00,#ff1c00,#ff1900,#ff1600,#ff1300,#ff1000,#ff0d00,#ff0b00,#ff0900,#ff0700,#ff0600,#ff0800,#ff0b00,#ff1000,#ff1800,#ff2000,#ff2800,#ff2e00,#ff3100,#ff3200,#ff3100,#ff2d00,#ff2600,#ff1e00,#ff1700,#ff1100,#ff0f00,#ff1200,#ff1800,#ff2100,#ff2b00,#ff3500,#ff3d00,#ff4300,#ff4800,#ff4a00,#ff4a00,#ff4800,#ff4400,#ff4000,#ff3c00,#ff3800,#ff3700,#ff3700,#ff3800,#ff3900,#ff3b00,#ff3d00,#ff3d00,#ff3d00,#ff3a00,#ff3600,#ff3600,#ff3600)"></i><i style="background:linear-gradient(90deg,#ff2800,#ff2800,#ff2800,#ff2800,#ff2800,#ff2800,#ff2800,#ff2800,#ff2800,#ff2800,#ff2800,#ff2800,#ff2800,#ff2800,#ff2800,#ff2800,#ff2800,#ff2800,#ff2800,#ff2800,#ff2800,#ff2800,#ff2800,#ff2800,#ff2800,#ff2800,#ff2800,#ff2800,#ff2800,#ff2800,#ff2800,#ff2800,#ff2800,#ff2800,#ff2800,#ff2800,#ff2800,#ff2800,#ff2800,#ff2800,#ff2800,#ff2800,#ff2800,#ff2800,#ff2800,#ff2800,#ff2800,#ff2800,#ff2800,#ff2800,#ff2800,#ff2700,#ff2500,#ff2300,#ff2000,#ff1d00,#ff1900,#ff1600,#ff1200,#ff0f00,#ff0d00,#ff0b00,#ff0900,#ff0700,#ff0500,#ff0400,#ff0400,#ff0600,#ff0900,#ff0e00,#ff1600,#ff1d00,#ff2400,#ff2800,#ff2a00,#ff2a00,#ff2800,#ff2400,#ff1f00,#ff1a00,#ff1400,#ff1100,#ff1000,#ff1300,#ff1900,#ff2100,#ff2a00,#ff3200,#ff3a00,#ff4000,#ff4400,#ff4700,#ff4700,#ff4400,#ff4000,#ff3b00,#ff3600,#ff3300,#ff3100,#ff3100,#ff3300,#ff3500,#ff3700,#ff3a00,#ff3b00,#ff3c00,#ff3b00,#ff3800,#ff3800,#ff3800)"></i><i style="background:linear-gradient(90deg,#ff2300,#ff2300,#ff2300,#ff2300,#ff2300,#ff2300,#ff2300,#ff2300,#ff2300,#ff2300,#ff2300,#ff2300,#ff2300,#ff2300,#ff2300,#ff2300,#ff2300,#ff2300,#ff2300,#ff2300,#ff2300,#ff2300,#ff2300,#ff2300,#ff2300,#ff2300,#ff2300,#ff2300,#ff2300,#ff2300,#ff2300,#ff2300,#ff2300,#ff2300,#ff2300,#ff2300,#ff2300,#ff2300,#ff2300,#ff2300,#ff2300,#ff2300,#ff2300,#ff2300,#ff2300,#ff2300,#ff2300,#ff2300,#ff2300,#ff2300,#ff2300,#ff2200,#ff2100,#ff1f00,#ff1c00,#ff1900,#ff1500,#ff1200,#ff0f00,#ff0c00,#ff0a00,#ff0900,#ff0700,#ff0500,#ff0400,#ff0400,#ff0500,#ff0700,#ff0a00,#ff0f00,#ff1600,#ff1d00,#ff2200,#ff2500,#ff2600,#ff2400,#ff2200,#ff1f00,#ff1b00,#ff1800,#ff1500,#ff1400,#ff1500,#ff1800,#ff1e00,#ff2500,#ff2c00,#ff3300,#ff3900,#ff3e00,#ff4200,#ff4400,#ff4300,#ff4000,#ff3c00,#ff3600,#ff3200,#ff2e00,#ff2d00,#ff2d00,#ff2f00,#ff3100,#ff3400,#ff3700,#ff3a00,#ff3b00,#ff3b00,#ff3a00,#ff3a00,#ff3a00)"></i><i style="background:linear-gradient(90deg,#ff1e00,#ff1e00,#ff1e00,#ff1e00,#ff1e00,#ff1e00,#ff1e00,#ff1e00,#ff1e00,#ff1e00,#ff1e00,#ff1e00,#ff1e00,#ff1e00,#ff1e00,#ff1e00,#ff1e00,#ff1e00,#ff1e00,#ff1e00,#ff1e00,#ff1e00,#ff1e00,#ff1e00,#ff1f00,#ff1f00,#ff1f00,#ff1f00,#ff1f00,#ff1f00,#ff1f00,#ff1f00,#ff1f00,#ff1f00,#ff1f00,#ff1e00,#ff1e00,#ff1e00,#ff1f00,#ff1f00,#ff1f00,#ff1f00,#ff1f00,#ff1f00,#ff1e00,#ff1e00,#ff1e00,#ff1e00,#ff1f00,#ff1f00,#ff1f00,#ff1e00,#ff1d00,#ff1b00,#ff1900,#ff1600,#ff1300,#ff1000,#ff0d00,#ff0b00,#ff0900,#ff0800,#ff0600,#ff0500,#ff0500,#ff0600,#ff0700,#ff0a00,#ff0d00,#ff1300,#ff1900,#ff1f00,#ff2300,#ff2400,#ff2300,#ff2100,#ff1e00,#ff1b00,#ff1900,#ff1800,#ff1800,#ff1900,#ff1c00,#ff2000,#ff2500,#ff2a00,#ff3000,#ff3600,#ff3a00,#ff3e00,#ff4000,#ff4100,#ff4000,#ff3c00,#ff3700,#ff3200,#ff2d00,#ff2a00,#ff2900,#ff2900,#ff2b00,#ff2f00,#ff3200,#ff3600,#ff3900,#ff3b00,#ff3c00,#ff3a00,#ff3a00,#ff3a00)"></i><i style="background:linear-gradient(90deg,#ff1b00,#ff1b00,#ff1b00,#ff1b00,#ff1b00,#ff1b00,#ff1b00,#ff1b00,#ff1b00,#ff1b00,#ff1b00,#ff1b00,#ff1b00,#ff1b00,#ff1b00,#ff1b00,#ff1b00,#ff1b00,#ff1b00,#ff1b00,#ff1b00,#ff1b00,#ff1b00,#ff1b00,#ff1b00,#ff1b00,#ff1b00,#ff1b00,#ff1b00,#ff1b00,#ff1b00,#ff1b00,#ff1b00,#ff1b00,#ff1b00,#ff1b00,#ff1b00,#ff1b00,#ff1b00,#ff1b00,#ff1b00,#ff1b00,#ff1b00,#ff1b00,#ff1b00,#ff1b00,#ff1b00,#ff1b00,#ff1b00,#ff1b00,#ff1b00,#ff1b00,#ff1b00,#ff1900,#ff1700,#ff1500,#ff1200,#ff0f00,#ff0d00,#ff0b00,#ff0900,#ff0800,#ff0700,#ff0700,#ff0800,#ff0900,#ff0b00,#ff0e00,#ff1300,#ff1800,#ff1e00,#ff2200,#ff2400,#ff2400,#ff2200,#ff1f00,#ff1c00,#ff1a00,#ff1900,#ff1a00,#ff1c00,#ff1f00,#ff2300,#ff2800,#ff2d00,#ff3100,#ff3600,#ff3a00,#ff3d00,#ff3f00,#ff3f00,#ff3e00,#ff3c00,#ff3800,#ff3300,#ff2d00,#ff2900,#ff2600,#ff2500,#ff2600,#ff2900,#ff2c00,#ff3000,#ff3400,#ff3800,#ff3b00,#ff3c00,#ff3b00,#ff3b00,#ff3b00)"></i><i style="background:linear-gradient(90deg,#ff1800,#ff1800,#ff1800,#ff1800,#ff1800,#ff1800,#ff1800,#ff1800,#ff1800,#ff1800,#ff1800,#ff1800,#ff1800,#ff1800,#ff1800,#ff1800,#ff1800,#ff1800,#ff1800,#ff1800,#ff1800,#ff1800,#ff1800,#ff1800,#ff1800,#ff1800,#ff1800,#ff1800,#ff1800,#ff1800,#ff1800,#ff1800,#ff1800,#ff1800,#ff1800,#ff1800,#ff1800,#ff1800,#ff1800,#ff1800,#ff1800,#ff1800,#ff1800,#ff1800,#ff1800,#ff1800,#ff1800,#ff1800,#ff1800,#ff1900,#ff1900,#ff1900,#ff1900,#ff1800,#ff1600,#ff1400,#ff1200,#ff0f00,#ff0d00,#ff0c00,#ff0a00,#ff0900,#ff0900,#ff0900,#ff0b00,#ff0d00,#ff1000,#ff1400,#ff1900,#ff1e00,#ff2300,#ff2600,#ff2700,#ff2500,#ff2300,#ff1f00,#ff1c00,#ff1b00,#ff1b00,#ff1d00,#ff2100,#ff2500,#ff2a00,#ff2f00,#ff3400,#ff3800,#ff3c00,#ff3f00,#ff4000,#ff4000,#ff3f00,#ff3c00,#ff3800,#ff3300,#ff2e00,#ff2900,#ff2500,#ff2200,#ff2200,#ff2400,#ff2700,#ff2b00,#ff2f00,#ff3300,#ff3700,#ff3a00,#ff3c00,#ff3b00,#ff3b00,#ff3b00)"></i><i style="background:linear-gradient(90deg,#ff1600,#ff1600,#ff1600,#ff1600,#ff1600,#ff1600,#ff1600,#ff1600,#ff1600,#ff1600,#ff1600,#ff1600,#ff1600,#ff1600,#ff1600,#ff1600,#ff1600,#ff1600,#ff1600,#ff1600,#ff1600,#ff1600,#ff1600,#ff1600,#ff1600,#ff1600,#ff1600,#ff1600,#ff1600,#ff1600,#ff1600,#ff1600,#ff1600,#ff1600,#ff1600,#ff1600,#ff1600,#ff1600,#ff1600,#ff1600,#ff1600,#ff1600,#ff1600,#ff1600,#ff1600,#ff1600,#ff1600,#ff1600,#ff1700,#ff1700,#ff1800,#ff1800,#ff1800,#ff1700,#ff1600,#ff1400,#ff1200,#ff1000,#ff0e00,#ff0d00,#ff0b00,#ff0b00,#ff0b00,#ff0c00,#ff0e00,#ff1200,#ff1600,#ff1b00,#ff2000,#ff2400,#ff2700,#ff2800,#ff2900,#ff2700,#ff2400,#ff2100,#ff1e00,#ff1d00,#ff1e00,#ff2100,#ff2600,#ff2b00,#ff3000,#ff3500,#ff3a00,#ff3e00,#ff4100,#ff4300,#ff4300,#ff4100,#ff3e00,#ff3a00,#ff3500,#ff2f00,#ff2a00,#ff2500,#ff2100,#ff1f00,#ff1f00,#ff2100,#ff2500,#ff2900,#ff2e00,#ff3200,#ff3700,#ff3a00,#ff3b00,#ff3b00,#ff3b00,#ff3b00)"></i><i style="background:linear-gradient(90deg,#ff1500,#ff1500,#ff1500,#ff1500,#ff1500,#ff1500,#ff1500,#ff1500,#ff1500,#ff1500,#ff1500,#ff1500,#ff1500,#ff1500,#ff1500,#ff1500,#ff1500,#ff1500,#ff1500,#ff1500,#ff1500,#ff1500,#ff1500,#ff1500,#ff1500,#ff1500,#ff1500,#ff1500,#ff1500,#ff1500,#ff1500,#ff1500,#ff1500,#ff1500,#ff1500,#ff1500,#ff1500,#ff1500,#ff1500,#ff1500,#ff1500,#ff1500,#ff1500,#ff1500,#ff1500,#ff1500,#ff1500,#ff1500,#ff1600,#ff1700,#ff1700,#ff1800,#ff1800,#ff1700,#ff1600,#ff1500,#ff1300,#ff1100,#ff0f00,#ff0e00,#ff0d00,#ff0c00,#ff0d00,#ff0f00,#ff1300,#ff1700,#ff1c00,#ff2100,#ff2400,#ff2700,#ff2900,#ff2a00,#ff2900,#ff2800,#ff2600,#ff2400,#ff2200,#ff2200,#ff2300,#ff2600,#ff2900,#ff2e00,#ff3300,#ff3900,#ff3e00,#ff4200,#ff4500,#ff4600,#ff4500,#ff4100,#ff3d00,#ff3700,#ff3100,#ff2b00,#ff2500,#ff2100,#ff1d00,#ff1c00,#ff1c00,#ff1f00,#ff2300,#ff2700,#ff2c00,#ff3100,#ff3600,#ff3900,#ff3b00,#ff3b00,#ff3b00,#ff3b00)"></i><i style="background:linear-gradient(90deg,#ff1500,#ff1500,#ff1500,#ff1500,#ff1500,#ff1500,#ff1500,#ff1500,#ff1500,#ff1500,#ff1500,#ff1500,#ff1500,#ff1500,#ff1500,#ff1500,#ff1500,#ff1500,#ff1500,#ff1500,#ff1500,#ff1500,#ff1500,#ff1500,#ff1500,#ff1500,#ff1500,#ff1500,#ff1500,#ff1500,#ff1500,#ff1500,#ff1500,#ff1500,#ff1500,#ff1500,#ff1500,#ff1500,#ff1500,#ff1500,#ff1500,#ff1500,#ff1500,#ff1500,#ff1500,#ff1500,#ff1500,#ff1500,#ff1600,#ff1700,#ff1700,#ff1800,#ff1800,#ff1700,#ff1600,#ff1500,#ff1300,#ff1200,#ff1000,#ff0e00,#ff0e00,#ff0e00,#ff0f00,#ff1200,#ff1600,#ff1b00,#ff2000,#ff2400,#ff2600,#ff2800,#ff2900,#ff2900,#ff2900,#ff2800,#ff2800,#ff2700,#ff2700,#ff2700,#ff2800,#ff2a00,#ff2c00,#ff2f00,#ff3300,#ff3800,#ff3d00,#ff4200,#ff4600,#ff4700,#ff4500,#ff4100,#ff3b00,#ff3500,#ff2e00,#ff2700,#ff2100,#ff1c00,#ff1900,#ff1800,#ff1900,#ff1c00,#ff2000,#ff2500,#ff2b00,#ff3000,#ff3500,#ff3900,#ff3b00,#ff3b00,#ff3b00,#ff3b00)"></i><i style="background:linear-gradient(90deg,#ff1600,#ff1600,#ff1600,#ff1600,#ff1600,#ff1600,#ff1600,#ff1600,#ff1600,#ff1600,#ff1600,#ff1600,#ff1600,#ff1600,#ff1600,#ff1600,#ff1600,#ff1600,#ff1600,#ff1600,#ff1600,#ff1600,#ff1600,#ff1600,#ff1600,#ff1600,#ff1600,#ff1600,#ff1600,#ff1600,#ff1600,#ff1600,#ff1600,#ff1600,#ff1600,#ff1600,#ff1600,#ff1600,#ff1600,#ff1600,#ff1600,#ff1600,#ff1600,#ff1600,#ff1600,#ff1600,#ff1600,#ff1600,#ff1700,#ff1800,#ff1800,#ff1900,#ff1800,#ff1800,#ff1700,#ff1500,#ff1300,#ff1200,#ff1000,#ff0f00,#ff0e00,#ff0f00,#ff1000,#ff1300,#ff1800,#ff1c00,#ff2000,#ff2300,#ff2500,#ff2500,#ff2500,#ff2500,#ff2500,#ff2700,#ff2900,#ff2c00,#ff2e00,#ff2e00,#ff2e00,#ff2d00,#ff2c00,#ff2c00,#ff2e00,#ff3200,#ff3800,#ff3e00,#ff4300,#ff4500,#ff4400,#ff4000,#ff3900,#ff3200,#ff2a00,#ff2300,#ff1d00,#ff1900,#ff1600,#ff1500,#ff1600,#ff1900,#ff1e00,#ff2300,#ff2900,#ff2f00,#ff3400,#ff3800,#ff3a00,#ff3b00,#ff3b00,#ff3b00)"></i><i style="background:linear-gradient(90deg,#ff1800,#ff1800,#ff1800,#ff1800,#ff1800,#ff1800,#ff1800,#ff1800,#ff1800,#ff1800,#ff1800,#ff1800,#ff1800,#ff1800,#ff1800,#ff1800,#ff1800,#ff1800,#ff1800,#ff1800,#ff1800,#ff1800,#ff1800,#ff1800,#ff1800,#ff1800,#ff1800,#ff1800,#ff1800,#ff1800,#ff1800,#ff1800,#ff1800,#ff1800,#ff1800,#ff1800,#ff1800,#ff1800,#ff1800,#ff1800,#ff1800,#ff1800,#ff1800,#ff1800,#ff1800,#ff1800,#ff1800,#ff1900,#ff1900,#ff1a00,#ff1a00,#ff1a00,#ff1900,#ff1800,#ff1600,#ff1400,#ff1200,#ff1000,#ff0f00,#ff0e00,#ff0e00,#ff0e00,#ff1000,#ff1300,#ff1600,#ff1a00,#ff1d00,#ff1e00,#ff1e00,#ff1d00,#ff1c00,#ff1c00,#ff1f00,#ff2400,#ff2a00,#ff3000,#ff3500,#ff3700,#ff3400,#ff2f00,#ff2800,#ff2400,#ff2200,#ff2600,#ff2c00,#ff3400,#ff3b00,#ff3f00,#ff4000,#ff3c00,#ff3600,#ff2e00,#ff2700,#ff1f00,#ff1900,#ff1500,#ff1200,#ff1100,#ff1200,#ff1600,#ff1b00,#ff2000,#ff2600,#ff2d00,#ff3200,#ff3700,#ff3a00,#ff3b00,#ff3b00,#ff3b00)"></i><i style="background:linear-gradient(90deg,#ff1a00,#ff1a00,#ff1a00,#ff1a00,#ff1a00,#ff1a00,#ff1a00,#ff1a00,#ff1a00,#ff1a00,#ff1a00,#ff1a00,#ff1a00,#ff1a00,#ff1a00,#ff1a00,#ff1a00,#ff1a00,#ff1a00,#ff1a00,#ff1a00,#ff1a00,#ff1a00,#ff1a00,#ff1a00,#ff1a00,#ff1a00,#ff1a00,#ff1a00,#ff1a00,#ff1a00,#ff1a00,#ff1a00,#ff1a00,#ff1a00,#ff1a00,#ff1a00,#ff1a00,#ff1a00,#ff1a00,#ff1a00,#ff1a00,#ff1a00,#ff1a00,#ff1a00,#ff1a00,#ff1a00,#ff1a00,#ff1a00,#ff1b00,#ff1b00,#ff1b00,#ff1a00,#ff1800,#ff1600,#ff1400,#ff1100,#ff0f00,#ff0e00,#ff0d00,#ff0d00,#ff0e00,#ff0f00,#ff1200,#ff1500,#ff1700,#ff1900,#ff1a00,#ff1900,#ff1700,#ff1600,#ff1700,#ff1a00,#ff2100,#ff2a00,#ff3300,#ff3900,#ff3b00,#ff3700,#ff2f00,#ff2600,#ff1e00,#ff1a00,#ff1c00,#ff2300,#ff2c00,#ff3500,#ff3b00,#ff3c00,#ff3a00,#ff3400,#ff2d00,#ff2500,#ff1e00,#ff1800,#ff1300,#ff1000,#ff0f00,#ff1000,#ff1400,#ff1900,#ff1f00,#ff2500,#ff2b00,#ff3100,#ff3600,#ff3a00,#ff3b00,#ff3b00,#ff3b00)"></i><i style="background:linear-gradient(90deg,#ff1a00,#ff1a00,#ff1a00,#ff1a00,#ff1a00,#ff1a00,#ff1a00,#ff1a00,#ff1a00,#ff1a00,#ff1a00,#ff1a00,#ff1a00,#ff1a00,#ff1a00,#ff1a00,#ff1a00,#ff1a00,#ff1a00,#ff1a00,#ff1a00,#ff1a00,#ff1a00,#ff1a00,#ff1a00,#ff1a00,#ff1a00,#ff1a00,#ff1a00,#ff1a00,#ff1a00,#ff1a00,#ff1a00,#ff1a00,#ff1a00,#ff1a00,#ff1a00,#ff1a00,#ff1a00,#ff1a00,#ff1a00,#ff1a00,#ff1a00,#ff1a00,#ff1a00,#ff1a00,#ff1a00,#ff1a00,#ff1a00,#ff1b00,#ff1b00,#ff1b00,#ff1a00,#ff1800,#ff1600,#ff1400,#ff1100,#ff0f00,#ff0e00,#ff0d00,#ff0d00,#ff0e00,#ff0f00,#ff1200,#ff1500,#ff1700,#ff1900,#ff1a00,#ff1900,#ff1700,#ff1600,#ff1700,#ff1a00,#ff2100,#ff2a00,#ff3300,#ff3900,#ff3b00,#ff3700,#ff2f00,#ff2600,#ff1e00,#ff1a00,#ff1c00,#ff2300,#ff2c00,#ff3500,#ff3b00,#ff3c00,#ff3a00,#ff3400,#ff2d00,#ff2500,#ff1e00,#ff1800,#ff1300,#ff1000,#ff0f00,#ff1000,#ff1400,#ff1900,#ff1f00,#ff2500,#ff2b00,#ff3100,#ff3600,#ff3a00,#ff3b00,#ff3b00,#ff3b00)"></i><i style="background:linear-gradient(90deg,#ff1a00,#ff1a00,#ff1a00,#ff1a00,#ff1a00,#ff1a00,#ff1a00,#ff1a00,#ff1a00,#ff1a00,#ff1a00,#ff1a00,#ff1a00,#ff1a00,#ff1a00,#ff1a00,#ff1a00,#ff1a00,#ff1a00,#ff1a00,#ff1a00,#ff1a00,#ff1a00,#ff1a00,#ff1a00,#ff1a00,#ff1a00,#ff1a00,#ff1a00,#ff1a00,#ff1a00,#ff1a00,#ff1a00,#ff1a00,#ff1a00,#ff1a00,#ff1a00,#ff1a00,#ff1a00,#ff1a00,#ff1a00,#ff1a00,#ff1a00,#ff1a00,#ff1a00,#ff1a00,#ff1a00,#ff1a00,#ff1a00,#ff1b00,#ff1b00,#ff1b00,#ff1a00,#ff1800,#ff1600,#ff1400,#ff1100,#ff0f00,#ff0e00,#ff0d00,#ff0d00,#ff0e00,#ff0f00,#ff1200,#ff1500,#ff1700,#ff1900,#ff1a00,#ff1900,#ff1700,#ff1600,#ff1700,#ff1a00,#ff2100,#ff2a00,#ff3300,#ff3900,#ff3b00,#ff3700,#ff2f00,#ff2600,#ff1e00,#ff1a00,#ff1c00,#ff2300,#ff2c00,#ff3500,#ff3b00,#ff3c00,#ff3a00,#ff3400,#ff2d00,#ff2500,#ff1e00,#ff1800,#ff1300,#ff1000,#ff0f00,#ff1000,#ff1400,#ff1900,#ff1f00,#ff2500,#ff2b00,#ff3100,#ff3600,#ff3a00,#ff3b00,#ff3b00,#ff3b00)"></i><i style="background:linear-gradient(90deg,#ff1a00,#ff1a00,#ff1a00,#ff1a00,#ff1a00,#ff1a00,#ff1a00,#ff1a00,#ff1a00,#ff1a00,#ff1a00,#ff1a00,#ff1a00,#ff1a00,#ff1a00,#ff1a00,#ff1a00,#ff1a00,#ff1a00,#ff1a00,#ff1a00,#ff1a00,#ff1a00,#ff1a00,#ff1a00,#ff1a00,#ff1a00,#ff1a00,#ff1a00,#ff1a00,#ff1a00,#ff1a00,#ff1a00,#ff1a00,#ff1a00,#ff1a00,#ff1a00,#ff1a00,#ff1a00,#ff1a00,#ff1a00,#ff1a00,#ff1a00,#ff1a00,#ff1a00,#ff1a00,#ff1a00,#ff1a00,#ff1a00,#ff1b00,#ff1b00,#ff1b00,#ff1a00,#ff1800,#ff1600,#ff1400,#ff1100,#ff0f00,#ff0e00,#ff0d00,#ff0d00,#ff0e00,#ff0f00,#ff1200,#ff1500,#ff1700,#ff1900,#ff1a00,#ff1900,#ff1700,#ff1600,#ff1700,#ff1a00,#ff2100,#ff2a00,#ff3300,#ff3900,#ff3b00,#ff3700,#ff2f00,#ff2600,#ff1e00,#ff1a00,#ff1c00,#ff2300,#ff2c00,#ff3500,#ff3b00,#ff3c00,#ff3a00,#ff3400,#ff2d00,#ff2500,#ff1e00,#ff1800,#ff1300,#ff1000,#ff0f00,#ff1000,#ff1400,#ff1900,#ff1f00,#ff2500,#ff2b00,#ff3100,#ff3600,#ff3a00,#ff3b00,#ff3b00,#ff3b00)"></i></div></div>
<svg width="1356" height="1000" viewBox="0 0 1356 1000">
<defs><clipPath id="pc"><rect x="178" y="128" width="1047" height="709"/></clipPath></defs>
<g clip-path="url(#pc)">
<g fill="#fff" stroke="none" shape-rendering="crispEdges"><rect x="173.1" y="836.1" width="782.6" height="6.5"/><rect x="173.1" y="830.2" width="776.7" height="6.5"/><rect x="173.1" y="824.4" width="765.0" height="6.5"/><rect x="173.1" y="818.5" width="759.2" height="6.5"/><rect x="173.1" y="812.6" width="753.4" height="6.5"/><rect x="173.1" y="806.8" width="747.5" height="6.5"/><rect x="173.1" y="800.9" width="741.7" height="6.5"/><rect x="173.1" y="795.1" width="730.0" height="6.5"/><rect x="173.1" y="789.2" width="718.3" height="6.5"/><rect x="173.1" y="783.3" width="671.6" height="6.5"/><rect x="850.5" y="783.3" width="35.0" height="6.5"/><rect x="173.1" y="777.5" width="648.2" height="6.5"/><rect x="173.1" y="771.6" width="607.4" height="6.5"/><rect x="792.1" y="771.6" width="11.7" height="6.5"/><rect x="173.1" y="765.8" width="601.5" height="6.5"/><rect x="173.1" y="759.9" width="601.5" height="6.5"/><rect x="173.1" y="754.1" width="595.7" height="6.5"/><rect x="173.1" y="748.2" width="584.0" height="6.5"/><rect x="173.1" y="742.4" width="566.5" height="6.5"/><rect x="173.1" y="736.5" width="443.8" height="6.4"/><rect x="628.6" y="736.5" width="93.4" height="6.4"/><rect x="173.1" y="730.7" width="443.8" height="6.4"/><rect x="628.6" y="730.7" width="58.4" height="6.4"/><rect x="692.8" y="730.7" width="17.5" height="6.4"/><rect x="173.1" y="724.8" width="449.7" height="6.4"/><rect x="628.6" y="724.8" width="58.4" height="6.4"/><rect x="173.1" y="719.0" width="455.5" height="6.4"/><rect x="640.3" y="719.0" width="5.8" height="6.4"/><rect x="657.8" y="719.0" width="11.7" height="6.4"/><rect x="173.1" y="713.1" width="461.4" height="6.4"/><rect x="173.1" y="707.3" width="467.2" height="6.4"/><rect x="173.1" y="701.4" width="473.0" height="6.4"/><rect x="173.1" y="695.6" width="473.0" height="6.4"/><rect x="173.1" y="689.7" width="473.0" height="6.4"/><rect x="173.1" y="683.9" width="473.0" height="6.4"/><rect x="173.1" y="678.0" width="473.0" height="6.4"/><rect x="173.1" y="672.2" width="461.4" height="6.4"/><rect x="173.1" y="666.4" width="461.4" height="6.4"/><rect x="173.1" y="660.5" width="461.4" height="6.4"/><rect x="173.1" y="654.7" width="455.5" height="6.4"/><rect x="173.1" y="648.8" width="455.5" height="6.4"/><rect x="173.1" y="643.0" width="449.7" height="6.4"/><rect x="173.1" y="637.1" width="449.7" height="6.4"/><rect x="173.1" y="631.3" width="449.7" height="6.5"/><rect x="173.1" y="625.4" width="449.7" height="6.5"/><rect x="173.1" y="619.6" width="443.8" height="6.5"/><rect x="173.1" y="613.7" width="438.0" height="6.5"/><rect x="173.1" y="607.8" width="432.2" height="6.5"/><rect x="173.1" y="602.0" width="420.5" height="6.5"/><rect x="173.1" y="596.1" width="414.6" height="6.5"/><rect x="173.1" y="590.3" width="403.0" height="6.5"/><rect x="173.1" y="584.4" width="385.4" height="6.5"/><rect x="173.1" y="578.6" width="367.9" height="6.5"/><rect x="173.1" y="572.7" width="303.7" height="6.5"/><rect x="173.1" y="566.8" width="303.7" height="6.5"/><rect x="173.1" y="561.0" width="297.8" height="6.5"/><rect x="173.1" y="555.1" width="286.2" height="6.5"/><rect x="173.1" y="549.2" width="274.5" height="6.5"/><rect x="173.1" y="543.4" width="274.5" height="6.5"/><rect x="173.1" y="537.5" width="268.6" height="6.5"/><rect x="173.1" y="531.6" width="262.8" height="6.5"/><rect x="173.1" y="525.7" width="251.1" height="6.5"/><rect x="173.1" y="519.9" width="245.3" height="6.5"/><rect x="173.1" y="514.0" width="221.9" height="6.5"/><rect x="400.8" y="514.0" width="5.8" height="6.5"/><rect x="173.1" y="508.1" width="221.9" height="6.5"/><rect x="173.1" y="502.2" width="221.9" height="6.5"/><rect x="173.1" y="496.3" width="216.1" height="6.5"/><rect x="173.1" y="490.4" width="210.2" height="6.5"/><rect x="173.1" y="484.5" width="216.1" height="6.5"/><rect x="173.1" y="478.6" width="181.0" height="6.5"/><rect x="365.8" y="478.6" width="23.4" height="6.5"/><rect x="173.1" y="472.7" width="99.3" height="6.5"/><rect x="301.5" y="472.7" width="58.4" height="6.5"/><rect x="365.8" y="472.7" width="23.4" height="6.5"/><rect x="173.1" y="466.8" width="46.7" height="6.5"/><rect x="243.1" y="466.8" width="23.4" height="6.5"/><rect x="307.4" y="466.8" width="52.6" height="6.5"/><rect x="365.8" y="466.8" width="23.4" height="6.5"/><rect x="173.1" y="460.9" width="46.7" height="6.5"/><rect x="173.1" y="455.0" width="46.7" height="6.5"/><rect x="173.1" y="449.1" width="35.0" height="6.5"/><rect x="173.1" y="443.2" width="11.7" height="6.5"/><rect x="173.1" y="437.3" width="11.7" height="6.5"/></g>
<g fill="#fff" stroke="none"><polygon points="316.0,466.5 359.9,466.5 359.9,478.8 354.3,478.8 354.3,484.8 366.0,484.8 366.0,478.8 371.5,478.8 371.5,467.1 389.2,467.1 389.2,484.8 383.1,484.8 383.1,496.5 395.3,496.5 395.3,514.2 400.8,514.2 400.8,525.0 340.0,525.0 316.0,480.0"/><rect x="612" y="719.5" width="70" height="30"/><rect x="178.0" y="270.2" width="30.0" height="5.8"/><rect x="202.1" y="276.0" width="12.0" height="18.2"/><rect x="237.6" y="282.2" width="40.3" height="11.5"/><rect x="242.9" y="293.7" width="35.0" height="6.2"/><rect x="630" y="710" width="22" height="12"/></g>
<rect x="1224" y="128" width="2" height="709" fill="#fff"/>
<g fill="#808080" stroke="#000" stroke-width="1" stroke-linejoin="miter">
<polygon points="170.0,442.4 178.4,442.4 181.8,451.7 201.7,454.1 212.7,460.5 219.4,477.3 241.5,475.1 257.0,473.4 264.7,473.8 269.2,480.0 283.5,484.0 292.4,485.5 305.7,481.8 316.7,472.2 358.2,471.6 358.2,472.8 340.0,475.4 355.4,493.1 362.1,491.5 385.9,499.2 390.3,511.4 386.4,524.7 403.6,521.3 439.5,544.0 445.0,556.1 442.8,563.8 453.0,561.6 466.3,569.4 477.3,583.1 492.8,585.3 503.9,584.9 519.4,583.1 530.4,584.0 550.3,589.3 576.9,600.3 607.9,620.3 618.9,633.5 620.0,649.0 627.8,664.5 631.8,679.5 644.4,680.7 643.3,698.4 630.0,712.7 616.7,724.9 612.3,737.1 610.1,750.3 623.4,744.8 630.0,760.3 633.3,745.9 634.4,730.4 643.3,726.0 654.3,728.2 665.4,726.0 679.8,729.3 673.1,754.8 677.6,758.1 686.4,741.5 696.4,737.1 707.4,737.1 720.7,744.8 742.8,752.6 749.5,754.8 753.0,760.3 764.1,757.0 774.0,776.9 769.6,788.0 782.9,784.6 795.0,778.7 806.1,780.2 818.3,786.2 829.3,786.2 841.5,791.9 853.7,791.9 863.6,788.4 876.9,788.4 907.9,807.9 927.8,827.8 943.3,836.6 950.0,845.0 170.0,845.0"/><polygon points="170.0,257.0 178.0,257.0 184.3,265.4 195.6,265.4 186.4,270.6 205.0,275.7 215.3,285.0 207.0,294.7 200.8,288.0 187.4,286.0 178.0,290.2 170.0,290.2"/><polygon points="242.1,285.0 269.0,284.6 277.2,291.2 271.0,297.4 261.7,297.4 252.4,299.5 243.1,297.4"/><polygon points="370.9,472.1 386.4,469.9 387.0,482.1 380.3,487.6 367.1,487.6 374.2,483.2 374.8,473.8"/>
<polygon points="366.4,339.3 372.4,341.1 374.5,335.4 378.4,341.1 372.4,341.1 368.8,346.8"/><polygon points="382.0,373.2 386.5,376.0 389.8,381.3 385.0,377.5"/><polygon points="196.0,432.4 200.0,434.5 203.9,438.0 200.0,436.5"/>
</g>
<g stroke="#000" stroke-width="1.4" stroke-dasharray="1.4 2.6"><line x1="175.8" y1="151.0" x2="1225" y2="151.0"/><line x1="175.8" y1="297.3" x2="1225" y2="297.3"/><line x1="175.8" y1="440.5" x2="1225" y2="440.5"/><line x1="175.8" y1="581.8" x2="1225" y2="581.8"/><line x1="175.8" y1="722.2" x2="1225" y2="722.2"/><line x1="339.5" y1="125.8" x2="339.5" y2="837"/><line x1="549.5" y1="125.8" x2="549.5" y2="837"/><line x1="760.0" y1="125.8" x2="760.0" y2="837"/><line x1="970.0" y1="125.8" x2="970.0" y2="837"/><line x1="1180.5" y1="125.8" x2="1180.5" y2="837"/></g>
</g>
<rect x="176" y="126" width="1051" height="713" fill="none" stroke="#000" stroke-width="4" rx="1.5"/>
<g stroke="#000" stroke-width="4"><line x1="178" y1="151.0" x2="186" y2="151.0"/><line x1="1217" y1="151.0" x2="1225" y2="151.0"/><line x1="178" y1="297.3" x2="186" y2="297.3"/><line x1="1217" y1="297.3" x2="1225" y2="297.3"/><line x1="178" y1="440.5" x2="186" y2="440.5"/><line x1="1217" y1="440.5" x2="1225" y2="440.5"/><line x1="178" y1="581.8" x2="186" y2="581.8"/><line x1="1217" y1="581.8" x2="1225" y2="581.8"/><line x1="178" y1="722.2" x2="186" y2="722.2"/><line x1="1217" y1="722.2" x2="1225" y2="722.2"/><line x1="339.5" y1="128" x2="339.5" y2="136"/><line x1="339.5" y1="829" x2="339.5" y2="837"/><line x1="549.5" y1="128" x2="549.5" y2="136"/><line x1="549.5" y1="829" x2="549.5" y2="837"/><line x1="760.0" y1="128" x2="760.0" y2="136"/><line x1="760.0" y1="829" x2="760.0" y2="837"/><line x1="970.0" y1="128" x2="970.0" y2="136"/><line x1="970.0" y1="829" x2="970.0" y2="837"/><line x1="1180.5" y1="128" x2="1180.5" y2="136"/><line x1="1180.5" y1="829" x2="1180.5" y2="837"/></g>
<g font-family="Liberation Sans, sans-serif" font-size="17" letter-spacing="0.4" fill="#000"><text x="172.3" y="160.3" text-anchor="end">24<tspan font-size="12.5" dy="-8">o</tspan><tspan dy="8" dx="1.8">N</tspan></text><text x="172.3" y="306.6" text-anchor="end">18<tspan font-size="12.5" dy="-8">o</tspan><tspan dy="8" dx="1.8">N</tspan></text><text x="172.3" y="449.8" text-anchor="end">12<tspan font-size="12.5" dy="-8">o</tspan><tspan dy="8" dx="1.8">N</tspan></text><text x="172.3" y="591.1" text-anchor="end">6<tspan font-size="12.5" dy="-8">o</tspan><tspan dy="8" dx="1.8">N</tspan></text><text x="169.1" y="731.5" text-anchor="end">0<tspan font-size="12.5" dy="-8">o</tspan><tspan dy="8" dx="1.8">&#8202;</tspan></text><text x="340.5" y="861" text-anchor="middle">63<tspan font-size="12.5" dy="-8">o</tspan><tspan dy="8" dx="1">W</tspan></text><text x="550.5" y="861" text-anchor="middle">54<tspan font-size="12.5" dy="-8">o</tspan><tspan dy="8" dx="1">W</tspan></text><text x="761.0" y="861" text-anchor="middle">45<tspan font-size="12.5" dy="-8">o</tspan><tspan dy="8" dx="1">W</tspan></text><text x="971.0" y="861" text-anchor="middle">36<tspan font-size="12.5" dy="-8">o</tspan><tspan dy="8" dx="1">W</tspan></text><text x="1181.5" y="861" text-anchor="middle">27<tspan font-size="12.5" dy="-8">o</tspan><tspan dy="8" dx="1">W</tspan></text></g>
<text x="706" y="76" text-anchor="middle" font-family="Liberation Sans, sans-serif" font-weight="bold" font-size="31.5">AVHRR Sea Surface Temperature</text>
<text x="701.5" y="116" text-anchor="middle" font-family="Liberation Sans, sans-serif" font-weight="bold" font-size="25">2016-04-04</text>
<g shape-rendering="crispEdges"><rect x="177.50" y="880.0" width="10.81" height="19.5" fill="#af85c9"/><rect x="188.01" y="880.0" width="10.81" height="19.5" fill="#a576c1"/><rect x="198.53" y="880.0" width="10.81" height="19.5" fill="#9b67b9"/><rect x="209.04" y="880.0" width="10.81" height="19.5" fill="#9158b1"/><rect x="219.56" y="880.0" width="10.81" height="19.5" fill="#8749a9"/><rect x="230.07" y="880.0" width="10.81" height="19.5" fill="#7f3aa1"/><rect x="240.59" y="880.0" width="10.81" height="19.5" fill="#772b98"/><rect x="251.10" y="880.0" width="10.81" height="19.5" fill="#701d90"/><rect x="261.62" y="880.0" width="10.81" height="19.5" fill="#680e87"/><rect x="272.13" y="880.0" width="10.81" height="19.5" fill="#620386"/><rect x="282.65" y="880.0" width="10.81" height="19.5" fill="#5c008e"/><rect x="293.16" y="880.0" width="10.81" height="19.5" fill="#560093"/><rect x="303.68" y="880.0" width="10.81" height="19.5" fill="#4f0098"/><rect x="314.19" y="880.0" width="10.81" height="19.5" fill="#49009d"/><rect x="324.71" y="880.0" width="10.81" height="19.5" fill="#4200a4"/><rect x="335.22" y="880.0" width="10.81" height="19.5" fill="#3b00ab"/><rect x="345.74" y="880.0" width="10.81" height="19.5" fill="#3500b2"/><rect x="356.25" y="880.0" width="10.81" height="19.5" fill="#2e00bc"/><rect x="366.77" y="880.0" width="10.81" height="19.5" fill="#2800c6"/><rect x="377.28" y="880.0" width="10.81" height="19.5" fill="#2000d0"/><rect x="387.80" y="880.0" width="10.81" height="19.5" fill="#1700db"/><rect x="398.31" y="880.0" width="10.81" height="19.5" fill="#0f00e7"/><rect x="408.83" y="880.0" width="10.81" height="19.5" fill="#0900f1"/><rect x="419.34" y="880.0" width="10.81" height="19.5" fill="#0600f6"/><rect x="429.86" y="880.0" width="10.81" height="19.5" fill="#0200fb"/><rect x="440.37" y="880.0" width="10.81" height="19.5" fill="#0000ff"/><rect x="450.89" y="880.0" width="10.81" height="19.5" fill="#0004fb"/><rect x="461.40" y="880.0" width="10.81" height="19.5" fill="#0012e8"/><rect x="471.92" y="880.0" width="10.81" height="19.5" fill="#0021d5"/><rect x="482.43" y="880.0" width="10.81" height="19.5" fill="#0030c3"/><rect x="492.95" y="880.0" width="10.81" height="19.5" fill="#003eb1"/><rect x="503.46" y="880.0" width="10.81" height="19.5" fill="#0048a3"/><rect x="513.98" y="880.0" width="10.81" height="19.5" fill="#005296"/><rect x="524.49" y="880.0" width="10.81" height="19.5" fill="#005c88"/><rect x="535.00" y="880.0" width="10.81" height="19.5" fill="#00667a"/><rect x="545.52" y="880.0" width="10.81" height="19.5" fill="#006f6c"/><rect x="556.03" y="880.0" width="10.81" height="19.5" fill="#00785e"/><rect x="566.55" y="880.0" width="10.81" height="19.5" fill="#008150"/><rect x="577.06" y="880.0" width="10.81" height="19.5" fill="#008a42"/><rect x="587.58" y="880.0" width="10.81" height="19.5" fill="#009334"/><rect x="598.09" y="880.0" width="10.81" height="19.5" fill="#009c27"/><rect x="608.61" y="880.0" width="10.81" height="19.5" fill="#00a61a"/><rect x="619.12" y="880.0" width="10.81" height="19.5" fill="#01af0f"/><rect x="629.64" y="880.0" width="10.81" height="19.5" fill="#12b40f"/><rect x="640.15" y="880.0" width="10.81" height="19.5" fill="#22b90f"/><rect x="650.67" y="880.0" width="10.81" height="19.5" fill="#33be0f"/><rect x="661.18" y="880.0" width="10.81" height="19.5" fill="#44c40d"/><rect x="671.70" y="880.0" width="10.81" height="19.5" fill="#55ca0b"/><rect x="682.21" y="880.0" width="10.81" height="19.5" fill="#65d009"/><rect x="692.73" y="880.0" width="10.81" height="19.5" fill="#76d607"/><rect x="703.24" y="880.0" width="10.81" height="19.5" fill="#87dc05"/><rect x="713.76" y="880.0" width="10.81" height="19.5" fill="#96e004"/><rect x="724.27" y="880.0" width="10.81" height="19.5" fill="#a5e403"/><rect x="734.79" y="880.0" width="10.81" height="19.5" fill="#b4e802"/><rect x="745.30" y="880.0" width="10.81" height="19.5" fill="#c2ec01"/><rect x="755.82" y="880.0" width="10.81" height="19.5" fill="#d1f000"/><rect x="766.33" y="880.0" width="10.81" height="19.5" fill="#ddf400"/><rect x="776.85" y="880.0" width="10.81" height="19.5" fill="#e8f700"/><rect x="787.36" y="880.0" width="10.81" height="19.5" fill="#f3fb00"/><rect x="797.88" y="880.0" width="10.81" height="19.5" fill="#feff00"/><rect x="808.39" y="880.0" width="10.81" height="19.5" fill="#fffa00"/><rect x="818.91" y="880.0" width="10.81" height="19.5" fill="#fff400"/><rect x="829.42" y="880.0" width="10.81" height="19.5" fill="#ffee00"/><rect x="839.94" y="880.0" width="10.81" height="19.5" fill="#ffe800"/><rect x="850.45" y="880.0" width="10.81" height="19.5" fill="#ffe300"/><rect x="860.97" y="880.0" width="10.81" height="19.5" fill="#ffdd00"/><rect x="871.48" y="880.0" width="10.81" height="19.5" fill="#ffd600"/><rect x="882.00" y="880.0" width="10.81" height="19.5" fill="#ffcf00"/><rect x="892.51" y="880.0" width="10.81" height="19.5" fill="#ffc800"/><rect x="903.02" y="880.0" width="10.81" height="19.5" fill="#ffc100"/><rect x="913.54" y="880.0" width="10.81" height="19.5" fill="#ffba00"/><rect x="924.05" y="880.0" width="10.81" height="19.5" fill="#ffb500"/><rect x="934.57" y="880.0" width="10.81" height="19.5" fill="#ffb000"/><rect x="945.08" y="880.0" width="10.81" height="19.5" fill="#ffab00"/><rect x="955.60" y="880.0" width="10.81" height="19.5" fill="#ffa600"/><rect x="966.11" y="880.0" width="10.81" height="19.5" fill="#ffa100"/><rect x="976.63" y="880.0" width="10.81" height="19.5" fill="#ff9a00"/><rect x="987.14" y="880.0" width="10.81" height="19.5" fill="#ff9200"/><rect x="997.66" y="880.0" width="10.81" height="19.5" fill="#ff8a00"/><rect x="1008.17" y="880.0" width="10.81" height="19.5" fill="#ff8200"/><rect x="1018.69" y="880.0" width="10.81" height="19.5" fill="#ff7a00"/><rect x="1029.20" y="880.0" width="10.81" height="19.5" fill="#ff7100"/><rect x="1039.72" y="880.0" width="10.81" height="19.5" fill="#ff6700"/><rect x="1050.23" y="880.0" width="10.81" height="19.5" fill="#ff5d00"/><rect x="1060.75" y="880.0" width="10.81" height="19.5" fill="#ff5300"/><rect x="1071.26" y="880.0" width="10.81" height="19.5" fill="#ff4900"/><rect x="1081.78" y="880.0" width="10.81" height="19.5" fill="#ff3f00"/><rect x="1092.29" y="880.0" width="10.81" height="19.5" fill="#ff3400"/><rect x="1102.81" y="880.0" width="10.81" height="19.5" fill="#ff2900"/><rect x="1113.32" y="880.0" width="10.81" height="19.5" fill="#ff1e00"/><rect x="1123.84" y="880.0" width="10.81" height="19.5" fill="#ff1300"/><rect x="1134.35" y="880.0" width="10.81" height="19.5" fill="#ff0b00"/><rect x="1144.87" y="880.0" width="10.81" height="19.5" fill="#ff0300"/><rect x="1155.38" y="880.0" width="10.81" height="19.5" fill="#f80000"/><rect x="1165.90" y="880.0" width="10.81" height="19.5" fill="#ec0000"/><rect x="1176.41" y="880.0" width="10.81" height="19.5" fill="#e10000"/><rect x="1186.93" y="880.0" width="10.81" height="19.5" fill="#d50000"/><rect x="1197.44" y="880.0" width="10.81" height="19.5" fill="#c90000"/><rect x="1207.96" y="880.0" width="10.81" height="19.5" fill="#bd0000"/><rect x="1218.47" y="880.0" width="10.81" height="19.5" fill="#b20000"/><rect x="1228.99" y="880.0" width="10.81" height="19.5" fill="#a60000"/></g>
<rect x="177.5" y="880.5" width="1062.0" height="19" fill="none" stroke="#262626" stroke-width="1"/>
<g stroke="#262626" stroke-width="1"><line x1="283.5" y1="889.5" x2="283.5" y2="899.5"/><line x1="389.5" y1="889.5" x2="389.5" y2="899.5"/><line x1="496.5" y1="889.5" x2="496.5" y2="899.5"/><line x1="602.5" y1="889.5" x2="602.5" y2="899.5"/><line x1="708.5" y1="889.5" x2="708.5" y2="899.5"/><line x1="814.5" y1="889.5" x2="814.5" y2="899.5"/><line x1="921.5" y1="889.5" x2="921.5" y2="899.5"/><line x1="1027.5" y1="889.5" x2="1027.5" y2="899.5"/><line x1="1133.5" y1="889.5" x2="1133.5" y2="899.5"/></g>
<g font-family="Liberation Sans, sans-serif" font-size="17.5" fill="#262626" text-anchor="middle"><text x="177.50" y="924">20</text><text x="283.70" y="924">21</text><text x="389.90" y="924">22</text><text x="496.10" y="924">23</text><text x="602.30" y="924">24</text><text x="708.50" y="924">25</text><text x="814.70" y="924">26</text><text x="920.90" y="924">27</text><text x="1027.10" y="924">28</text><text x="1133.30" y="924">29</text><text x="1239.50" y="924">30</text></g>
<text x="709" y="948.3" text-anchor="middle" font-family="Liberation Sans, sans-serif" font-size="17.5" fill="#262626">&#176;C</text>
</svg>
</body></html>
